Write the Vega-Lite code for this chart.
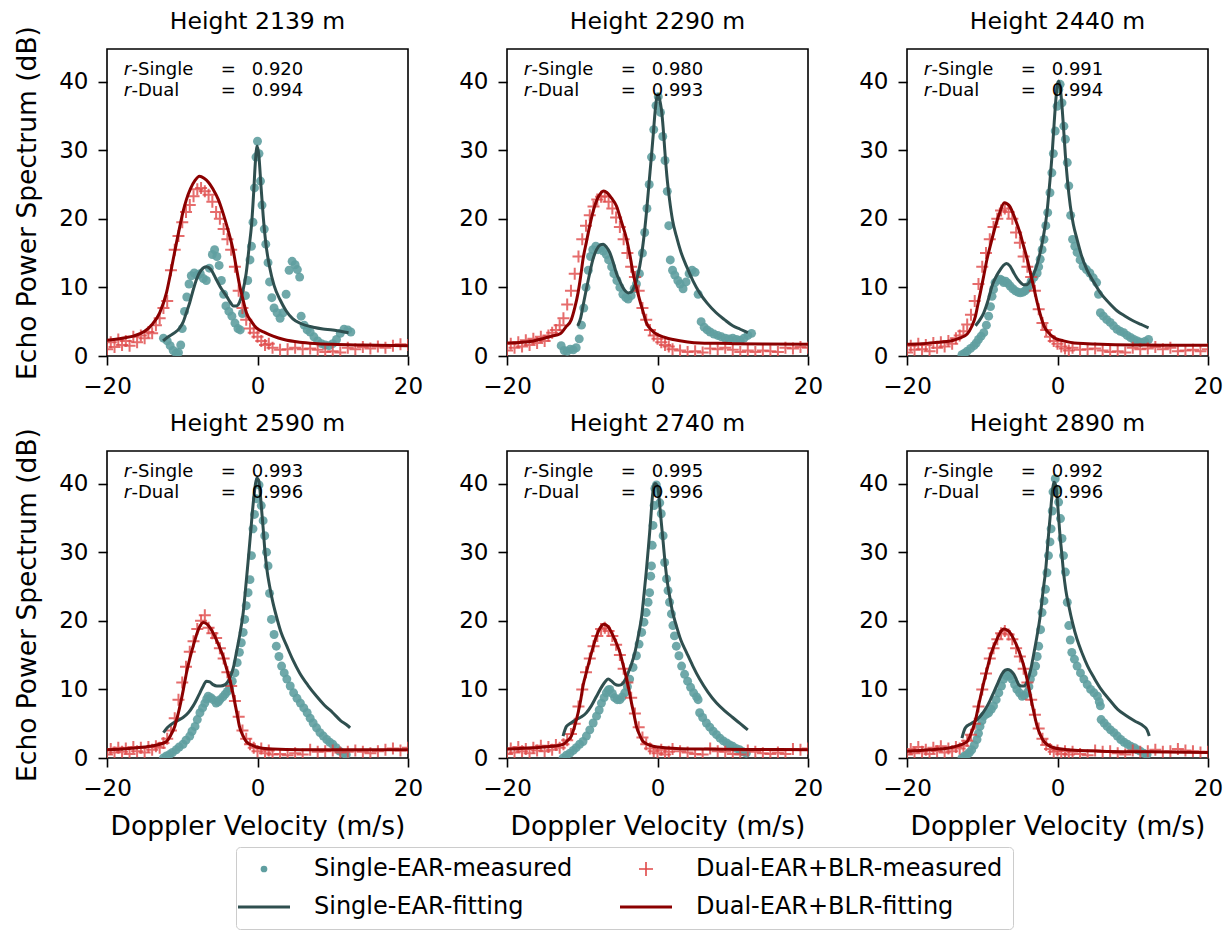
{
"$schema":"https://vega.github.io/schema/vega-lite/v6.json",
"background":"white",
"padding":{"left":13,"top":8,"right":5,"bottom":0},
"datasets":{
"s1":[{"a":"0.920","b":"0.994"}],
"s2":[{"a":"0.980","b":"0.993"}],
"s3":[{"a":"0.991","b":"0.994"}],
"s4":[{"a":"0.993","b":"0.996"}],
"s5":[{"a":"0.995","b":"0.996"}],
"s6":[{"a":"0.992","b":"0.996"}],
"d1":[
{"s":"sm","v":-12.5,"p":2.6},{"s":"sm","v":-12.0,"p":2.2},{"s":"sm","v":-11.6,"p":1.5},{"s":"sm","v":-11.2,"p":0.8},{"s":"sm","v":-10.8,"p":0.4},{"s":"sm","v":-10.5,"p":0.5},{"s":"sm","v":-10.2,"p":1.6},{"s":"sm","v":-10.0,"p":4.0},{"s":"sm","v":-9.7,"p":6.5},{"s":"sm","v":-9.4,"p":8.6},{"s":"sm","v":-9.1,"p":10.5},{"s":"sm","v":-8.8,"p":11.7},{"s":"sm","v":-8.4,"p":12.1},{"s":"sm","v":-8.0,"p":11.8},{"s":"sm","v":-7.6,"p":12.0},{"s":"sm","v":-7.2,"p":11.3},{"s":"sm","v":-6.8,"p":11.0},{"s":"sm","v":-6.4,"p":12.8},{"s":"sm","v":-6.0,"p":14.8},{"s":"sm","v":-5.7,"p":15.5},{"s":"sm","v":-5.4,"p":14.5},{"s":"sm","v":-5.1,"p":13.2},{"s":"sm","v":-4.8,"p":11.0},{"s":"sm","v":-4.5,"p":9.0},{"s":"sm","v":-4.2,"p":7.3},{"s":"sm","v":-3.8,"p":6.5},{"s":"sm","v":-3.4,"p":5.8},{"s":"sm","v":-3.0,"p":4.8},{"s":"sm","v":-2.6,"p":4.0},{"s":"sm","v":-2.3,"p":3.8},{"s":"sm","v":-2.0,"p":6.2},{"s":"sm","v":-1.6,"p":8.8},{"s":"sm","v":-1.3,"p":11.0},{"s":"sm","v":-1.0,"p":14.0},{"s":"sm","v":-0.8,"p":16.0},{"s":"sm","v":-0.6,"p":19.5},{"s":"sm","v":-0.4,"p":24.5},{"s":"sm","v":-0.2,"p":29.0},{"s":"sm","v":0.0,"p":31.3},{"s":"sm","v":0.2,"p":29.5},{"s":"sm","v":0.4,"p":25.5},{"s":"sm","v":0.6,"p":22.0},{"s":"sm","v":0.9,"p":18.5},{"s":"sm","v":1.1,"p":16.3},{"s":"sm","v":1.4,"p":13.6},{"s":"sm","v":1.6,"p":10.8},{"s":"sm","v":1.9,"p":8.5},{"s":"sm","v":2.2,"p":7.0},{"s":"sm","v":2.6,"p":6.3},{"s":"sm","v":3.0,"p":5.5},{"s":"sm","v":3.4,"p":6.3},{"s":"sm","v":3.8,"p":9.0},{"s":"sm","v":4.2,"p":12.5},{"s":"sm","v":4.6,"p":13.8},{"s":"sm","v":5.0,"p":13.3},{"s":"sm","v":5.3,"p":12.6},{"s":"sm","v":5.6,"p":11.5},{"s":"sm","v":5.8,"p":5.8},{"s":"sm","v":6.2,"p":4.5},{"s":"sm","v":6.6,"p":3.8},{"s":"sm","v":7.0,"p":3.5},{"s":"sm","v":7.5,"p":2.8},{"s":"sm","v":8.0,"p":2.2},{"s":"sm","v":8.5,"p":1.8},{"s":"sm","v":9.0,"p":1.6},{"s":"sm","v":9.5,"p":1.5},{"s":"sm","v":10.0,"p":1.8},{"s":"sm","v":10.5,"p":2.4},{"s":"sm","v":11.0,"p":3.3},{"s":"sm","v":11.5,"p":3.9},{"s":"sm","v":12.0,"p":3.8},{"s":"sm","v":12.4,"p":3.5},
{"s":"dm","v":-20,"p":1.0},{"s":"dm","v":-19.5,"p":2.0},{"s":"dm","v":-19,"p":1.3},{"s":"dm","v":-18.5,"p":2.4},{"s":"dm","v":-18,"p":1.6},{"s":"dm","v":-17.5,"p":2.2},{"s":"dm","v":-17,"p":1.5},{"s":"dm","v":-16.5,"p":2.8},{"s":"dm","v":-16,"p":2.0},{"s":"dm","v":-15.5,"p":3.0},{"s":"dm","v":-15,"p":2.6},{"s":"dm","v":-14.5,"p":3.5},{"s":"dm","v":-14,"p":3.3},{"s":"dm","v":-13.5,"p":4.5},{"s":"dm","v":-13,"p":5.5},{"s":"dm","v":-12.5,"p":7.0},{"s":"dm","v":-12,"p":8.0},{"s":"dm","v":-11.5,"p":12.5},{"s":"dm","v":-11,"p":15.5},{"s":"dm","v":-10.5,"p":17.5},{"s":"dm","v":-10,"p":19.5},{"s":"dm","v":-9.5,"p":21.0},{"s":"dm","v":-9,"p":22.0},{"s":"dm","v":-8.5,"p":23.3},{"s":"dm","v":-8,"p":24.3},{"s":"dm","v":-7.5,"p":24.5},{"s":"dm","v":-7,"p":24.0},{"s":"dm","v":-6.5,"p":23.5},{"s":"dm","v":-6,"p":22.5},{"s":"dm","v":-5.5,"p":21.0},{"s":"dm","v":-5,"p":20.0},{"s":"dm","v":-4.5,"p":18.5},{"s":"dm","v":-4,"p":17.0},{"s":"dm","v":-3.5,"p":15.5},{"s":"dm","v":-3,"p":13.0},{"s":"dm","v":-2.5,"p":9.5},{"s":"dm","v":-2,"p":7.0},{"s":"dm","v":-1.5,"p":5.3},{"s":"dm","v":-1,"p":4.0},{"s":"dm","v":-0.5,"p":3.4},{"s":"dm","v":0,"p":2.8},{"s":"dm","v":0.5,"p":2.2},{"s":"dm","v":1,"p":1.6},{"s":"dm","v":1.5,"p":1.8},{"s":"dm","v":2,"p":1.2},{"s":"dm","v":3,"p":0.9},{"s":"dm","v":4,"p":1.0},{"s":"dm","v":5,"p":1.2},{"s":"dm","v":6,"p":1.0},{"s":"dm","v":7,"p":1.1},{"s":"dm","v":8,"p":0.9},{"s":"dm","v":9,"p":0.6},{"s":"dm","v":10,"p":0.7},{"s":"dm","v":11,"p":0.5},{"s":"dm","v":12,"p":1.2},{"s":"dm","v":13,"p":1.0},{"s":"dm","v":14,"p":1.3},{"s":"dm","v":15,"p":1.1},{"s":"dm","v":16,"p":1.4},{"s":"dm","v":17,"p":1.2},{"s":"dm","v":18,"p":1.5},{"s":"dm","v":19,"p":1.7},{"s":"dm","v":20,"p":1.6},
{"s":"sf","v":-12.55,"p":2.2},{"s":"sf","v":-12,"p":2.7},{"s":"sf","v":-11,"p":3.4},{"s":"sf","v":-10.4,"p":4.0},{"s":"sf","v":-9.9,"p":4.9},{"s":"sf","v":-9.4,"p":6.5},{"s":"sf","v":-9.0,"p":7.8},{"s":"sf","v":-8.5,"p":9.8},{"s":"sf","v":-8.1,"p":11.2},{"s":"sf","v":-7.5,"p":12.5},{"s":"sf","v":-6.8,"p":13.0},{"s":"sf","v":-6.2,"p":12.6},{"s":"sf","v":-5.5,"p":11.2},{"s":"sf","v":-4.8,"p":9.8},{"s":"sf","v":-4.1,"p":8.7},{"s":"sf","v":-3.6,"p":7.8},{"s":"sf","v":-3.2,"p":7.3},{"s":"sf","v":-2.8,"p":7.3},{"s":"sf","v":-2.4,"p":7.8},{"s":"sf","v":-2.0,"p":9.2},{"s":"sf","v":-1.5,"p":12.1},{"s":"sf","v":-1.1,"p":16.0},{"s":"sf","v":-0.8,"p":19.0},{"s":"sf","v":-0.5,"p":24.0},{"s":"sf","v":-0.3,"p":28.0},{"s":"sf","v":-0.05,"p":30.6},{"s":"sf","v":0.2,"p":29.0},{"s":"sf","v":0.45,"p":25.0},{"s":"sf","v":0.75,"p":20.5},{"s":"sf","v":1.1,"p":16.5},{"s":"sf","v":1.6,"p":13.0},{"s":"sf","v":2.2,"p":10.3},{"s":"sf","v":3.0,"p":8.2},{"s":"sf","v":3.8,"p":6.6},{"s":"sf","v":4.7,"p":5.4},{"s":"sf","v":5.8,"p":4.7},{"s":"sf","v":7.4,"p":4.2},{"s":"sf","v":8.7,"p":3.95},{"s":"sf","v":10,"p":3.8},{"s":"sf","v":11,"p":3.6},{"s":"sf","v":12.1,"p":3.4},
{"s":"df","v":-20,"p":2.3},{"s":"df","v":-18,"p":2.6},{"s":"df","v":-16.5,"p":2.9},{"s":"df","v":-15,"p":3.6},{"s":"df","v":-14,"p":4.6},{"s":"df","v":-13,"p":6.3},{"s":"df","v":-12.1,"p":9.2},{"s":"df","v":-11.6,"p":11.8},{"s":"df","v":-11.2,"p":14.1},{"s":"df","v":-10.75,"p":16.6},{"s":"df","v":-10.3,"p":19.0},{"s":"df","v":-9.9,"p":21.0},{"s":"df","v":-9.45,"p":22.8},{"s":"df","v":-8.9,"p":24.4},{"s":"df","v":-8.3,"p":25.6},{"s":"df","v":-7.7,"p":26.2},{"s":"df","v":-7.1,"p":25.9},{"s":"df","v":-6.5,"p":25.3},{"s":"df","v":-5.9,"p":24.3},{"s":"df","v":-5.2,"p":22.8},{"s":"df","v":-4.6,"p":20.9},{"s":"df","v":-3.9,"p":18.3},{"s":"df","v":-3.25,"p":15.5},{"s":"df","v":-2.8,"p":12.8},{"s":"df","v":-2.36,"p":10.2},{"s":"df","v":-1.9,"p":8.1},{"s":"df","v":-1.47,"p":6.3},{"s":"df","v":-0.8,"p":5.0},{"s":"df","v":-0.15,"p":4.1},{"s":"df","v":1,"p":3.4},{"s":"df","v":2.07,"p":2.9},{"s":"df","v":3.5,"p":2.4},{"s":"df","v":5.6,"p":2.0},{"s":"df","v":8,"p":1.8},{"s":"df","v":10,"p":1.7},{"s":"df","v":14,"p":1.6},{"s":"df","v":20,"p":1.5}
],
"d2":[
{"s":"sm","v":-12.8,"p":1.5},{"s":"sm","v":-12.4,"p":0.8},{"s":"sm","v":-12.0,"p":0.7},{"s":"sm","v":-11.6,"p":1.0},{"s":"sm","v":-11.2,"p":0.9},{"s":"sm","v":-10.8,"p":1.2},{"s":"sm","v":-10.4,"p":2.5},{"s":"sm","v":-10.1,"p":4.5},{"s":"sm","v":-9.8,"p":7.0},{"s":"sm","v":-9.5,"p":10.0},{"s":"sm","v":-9.2,"p":12.5},{"s":"sm","v":-8.9,"p":14.5},{"s":"sm","v":-8.6,"p":15.5},{"s":"sm","v":-8.2,"p":16.0},{"s":"sm","v":-7.9,"p":15.5},{"s":"sm","v":-7.5,"p":15.8},{"s":"sm","v":-7.2,"p":15.3},{"s":"sm","v":-6.8,"p":14.8},{"s":"sm","v":-6.5,"p":14.0},{"s":"sm","v":-6.1,"p":13.0},{"s":"sm","v":-5.8,"p":12.0},{"s":"sm","v":-5.4,"p":11.0},{"s":"sm","v":-5.0,"p":10.0},{"s":"sm","v":-4.6,"p":9.0},{"s":"sm","v":-4.2,"p":8.5},{"s":"sm","v":-3.9,"p":8.3},{"s":"sm","v":-3.5,"p":8.8},{"s":"sm","v":-3.1,"p":9.8},{"s":"sm","v":-2.8,"p":10.5},{"s":"sm","v":-2.4,"p":12.0},{"s":"sm","v":-2.0,"p":15.0},{"s":"sm","v":-1.7,"p":18.0},{"s":"sm","v":-1.4,"p":21.5},{"s":"sm","v":-1.1,"p":25.0},{"s":"sm","v":-0.8,"p":29.0},{"s":"sm","v":-0.5,"p":33.0},{"s":"sm","v":-0.2,"p":36.5},{"s":"sm","v":0.1,"p":37.8},{"s":"sm","v":0.4,"p":35.5},{"s":"sm","v":0.7,"p":32.0},{"s":"sm","v":1.0,"p":28.5},{"s":"sm","v":1.3,"p":24.0},{"s":"sm","v":1.5,"p":19.0},{"s":"sm","v":1.7,"p":14.0},{"s":"sm","v":2.0,"p":12.5},{"s":"sm","v":2.3,"p":11.8},{"s":"sm","v":2.7,"p":11.0},{"s":"sm","v":3.0,"p":10.5},{"s":"sm","v":3.4,"p":9.8},{"s":"sm","v":3.8,"p":10.8},{"s":"sm","v":4.2,"p":12.0},{"s":"sm","v":4.6,"p":12.5},{"s":"sm","v":5.0,"p":12.2},{"s":"sm","v":5.4,"p":9.0},{"s":"sm","v":5.8,"p":5.0},{"s":"sm","v":6.2,"p":4.2},{"s":"sm","v":6.6,"p":3.8},{"s":"sm","v":7.0,"p":3.5},{"s":"sm","v":7.5,"p":3.2},{"s":"sm","v":8.0,"p":3.0},{"s":"sm","v":8.5,"p":2.8},{"s":"sm","v":9.0,"p":2.6},{"s":"sm","v":9.5,"p":2.5},{"s":"sm","v":10.0,"p":2.6},{"s":"sm","v":10.5,"p":2.4},{"s":"sm","v":11.0,"p":2.3},{"s":"sm","v":11.5,"p":2.6},{"s":"sm","v":12.0,"p":3.0},{"s":"sm","v":12.5,"p":3.3},
{"s":"dm","v":-20,"p":0.8},{"s":"dm","v":-19.5,"p":1.8},{"s":"dm","v":-19,"p":1.2},{"s":"dm","v":-18.5,"p":2.0},{"s":"dm","v":-18,"p":1.4},{"s":"dm","v":-17.5,"p":2.3},{"s":"dm","v":-17,"p":1.6},{"s":"dm","v":-16.5,"p":2.5},{"s":"dm","v":-16,"p":1.9},{"s":"dm","v":-15.5,"p":2.8},{"s":"dm","v":-15,"p":2.2},{"s":"dm","v":-14.5,"p":3.0},{"s":"dm","v":-14,"p":3.4},{"s":"dm","v":-13.5,"p":3.8},{"s":"dm","v":-13,"p":4.5},{"s":"dm","v":-12.5,"p":5.5},{"s":"dm","v":-12,"p":7.5},{"s":"dm","v":-11.5,"p":9.5},{"s":"dm","v":-11,"p":12.0},{"s":"dm","v":-10.5,"p":14.5},{"s":"dm","v":-10,"p":17.0},{"s":"dm","v":-9.5,"p":19.0},{"s":"dm","v":-9,"p":20.5},{"s":"dm","v":-8.5,"p":21.8},{"s":"dm","v":-8,"p":22.8},{"s":"dm","v":-7.5,"p":23.2},{"s":"dm","v":-7,"p":23.3},{"s":"dm","v":-6.5,"p":22.5},{"s":"dm","v":-6,"p":21.5},{"s":"dm","v":-5.5,"p":20.2},{"s":"dm","v":-5,"p":18.8},{"s":"dm","v":-4.5,"p":17.0},{"s":"dm","v":-4,"p":15.0},{"s":"dm","v":-3.5,"p":13.0},{"s":"dm","v":-3,"p":11.5},{"s":"dm","v":-2.5,"p":9.5},{"s":"dm","v":-2,"p":7.0},{"s":"dm","v":-1.5,"p":5.3},{"s":"dm","v":-1,"p":3.8},{"s":"dm","v":-0.5,"p":3.0},{"s":"dm","v":0,"p":2.5},{"s":"dm","v":0.5,"p":2.0},{"s":"dm","v":1,"p":1.6},{"s":"dm","v":1.5,"p":1.4},{"s":"dm","v":2,"p":1.0},{"s":"dm","v":3,"p":0.8},{"s":"dm","v":4,"p":0.6},{"s":"dm","v":5,"p":0.7},{"s":"dm","v":6,"p":0.5},{"s":"dm","v":7,"p":1.1},{"s":"dm","v":8,"p":1.0},{"s":"dm","v":9,"p":1.2},{"s":"dm","v":10,"p":0.9},{"s":"dm","v":11,"p":0.6},{"s":"dm","v":12,"p":0.8},{"s":"dm","v":13,"p":0.6},{"s":"dm","v":14,"p":0.8},{"s":"dm","v":15,"p":0.7},{"s":"dm","v":16,"p":0.6},{"s":"dm","v":17,"p":1.2},{"s":"dm","v":18,"p":1.1},{"s":"dm","v":19,"p":1.3},{"s":"dm","v":20,"p":1.2},
{"s":"sf","v":-10.6,"p":4.4},{"s":"sf","v":-10.2,"p":5.6},{"s":"sf","v":-9.9,"p":7.3},{"s":"sf","v":-9.5,"p":9.5},{"s":"sf","v":-9.0,"p":12.1},{"s":"sf","v":-8.6,"p":14.0},{"s":"sf","v":-8.1,"p":15.5},{"s":"sf","v":-7.6,"p":16.2},{"s":"sf","v":-7.2,"p":16.3},{"s":"sf","v":-6.8,"p":15.9},{"s":"sf","v":-6.35,"p":15.1},{"s":"sf","v":-5.9,"p":13.7},{"s":"sf","v":-5.47,"p":12.1},{"s":"sf","v":-5.0,"p":10.9},{"s":"sf","v":-4.6,"p":10.0},{"s":"sf","v":-4.2,"p":9.4},{"s":"sf","v":-3.9,"p":9.2},{"s":"sf","v":-3.5,"p":9.3},{"s":"sf","v":-3.25,"p":9.7},{"s":"sf","v":-2.8,"p":11.0},{"s":"sf","v":-2.36,"p":13.1},{"s":"sf","v":-1.9,"p":16.5},{"s":"sf","v":-1.47,"p":20.9},{"s":"sf","v":-1.1,"p":25.5},{"s":"sf","v":-0.8,"p":29.2},{"s":"sf","v":-0.55,"p":32.5},{"s":"sf","v":-0.37,"p":35.0},{"s":"sf","v":-0.15,"p":37.3},{"s":"sf","v":0.07,"p":38.1},{"s":"sf","v":0.3,"p":37.3},{"s":"sf","v":0.51,"p":36.0},{"s":"sf","v":0.75,"p":33.3},{"s":"sf","v":0.96,"p":30.1},{"s":"sf","v":1.25,"p":26.2},{"s":"sf","v":1.6,"p":22.8},{"s":"sf","v":2.0,"p":19.8},{"s":"sf","v":2.5,"p":17.5},{"s":"sf","v":3.1,"p":15.2},{"s":"sf","v":3.85,"p":13.1},{"s":"sf","v":4.7,"p":11.0},{"s":"sf","v":5.6,"p":9.2},{"s":"sf","v":6.6,"p":7.7},{"s":"sf","v":7.8,"p":6.3},{"s":"sf","v":8.9,"p":5.3},{"s":"sf","v":10.0,"p":4.4},{"s":"sf","v":11.0,"p":3.9},{"s":"sf","v":12.0,"p":3.4},
{"s":"df","v":-20,"p":1.9},{"s":"df","v":-18,"p":2.0},{"s":"df","v":-16.5,"p":2.2},{"s":"df","v":-15,"p":2.6},{"s":"df","v":-14,"p":2.9},{"s":"df","v":-13,"p":3.2},{"s":"df","v":-12.2,"p":4.2},{"s":"df","v":-11.45,"p":5.3},{"s":"df","v":-11,"p":7.0},{"s":"df","v":-10.56,"p":9.2},{"s":"df","v":-10.2,"p":11.7},{"s":"df","v":-9.9,"p":14.1},{"s":"df","v":-9.45,"p":16.6},{"s":"df","v":-9.0,"p":19.0},{"s":"df","v":-8.5,"p":21.3},{"s":"df","v":-8.0,"p":22.9},{"s":"df","v":-7.5,"p":23.8},{"s":"df","v":-7.15,"p":24.05},{"s":"df","v":-6.7,"p":23.8},{"s":"df","v":-6.1,"p":23.0},{"s":"df","v":-5.47,"p":21.9},{"s":"df","v":-4.8,"p":19.6},{"s":"df","v":-4.1,"p":17.0},{"s":"df","v":-3.65,"p":14.6},{"s":"df","v":-3.25,"p":12.1},{"s":"df","v":-2.8,"p":10.0},{"s":"df","v":-2.4,"p":8.3},{"s":"df","v":-1.9,"p":6.4},{"s":"df","v":-1.5,"p":4.9},{"s":"df","v":-0.8,"p":3.8},{"s":"df","v":-0.15,"p":3.2},{"s":"df","v":1,"p":2.7},{"s":"df","v":2.07,"p":2.4},{"s":"df","v":4,"p":2.05},{"s":"df","v":5.6,"p":1.9},{"s":"df","v":8,"p":1.85},{"s":"df","v":10,"p":1.8},{"s":"df","v":14,"p":1.75},{"s":"df","v":20,"p":1.7}
],
"d3":[
{"s":"sm","v":-12.7,"p":0.2},{"s":"sm","v":-12.35,"p":0.4},{"s":"sm","v":-12.0,"p":0.7},{"s":"sm","v":-11.55,"p":1.1},{"s":"sm","v":-11.1,"p":1.5},{"s":"sm","v":-10.8,"p":1.9},{"s":"sm","v":-10.5,"p":2.4},{"s":"sm","v":-10.15,"p":2.9},{"s":"sm","v":-9.8,"p":3.4},{"s":"sm","v":-9.45,"p":4.5},{"s":"sm","v":-9.15,"p":5.8},{"s":"sm","v":-8.9,"p":7.2},{"s":"sm","v":-8.7,"p":8.7},{"s":"sm","v":-8.5,"p":9.7},{"s":"sm","v":-8.3,"p":10.7},{"s":"sm","v":-7.95,"p":11.1},{"s":"sm","v":-7.6,"p":11.2},{"s":"sm","v":-7.35,"p":11.0},{"s":"sm","v":-7.15,"p":10.7},{"s":"sm","v":-6.9,"p":10.9},{"s":"sm","v":-6.6,"p":10.6},{"s":"sm","v":-6.3,"p":10.2},{"s":"sm","v":-5.95,"p":9.8},{"s":"sm","v":-5.6,"p":9.5},{"s":"sm","v":-5.25,"p":9.3},{"s":"sm","v":-4.95,"p":9.2},{"s":"sm","v":-4.6,"p":9.3},{"s":"sm","v":-4.3,"p":9.5},{"s":"sm","v":-4.05,"p":9.8},{"s":"sm","v":-3.8,"p":10.2},{"s":"sm","v":-3.5,"p":10.9},{"s":"sm","v":-3.1,"p":11.5},{"s":"sm","v":-2.7,"p":12.1},{"s":"sm","v":-2.5,"p":13.0},{"s":"sm","v":-2.3,"p":14.1},{"s":"sm","v":-2.05,"p":15.5},{"s":"sm","v":-1.8,"p":17.0},{"s":"sm","v":-1.55,"p":19.0},{"s":"sm","v":-1.3,"p":20.9},{"s":"sm","v":-1.0,"p":23.8},{"s":"sm","v":-0.75,"p":26.7},{"s":"sm","v":-0.55,"p":29.5},{"s":"sm","v":-0.3,"p":32.8},{"s":"sm","v":-0.05,"p":36.4},{"s":"sm","v":0.17,"p":38.9},{"s":"sm","v":0.35,"p":39.6},{"s":"sm","v":0.6,"p":36.9},{"s":"sm","v":0.85,"p":33.5},{"s":"sm","v":1.05,"p":31.6},{"s":"sm","v":1.3,"p":28.2},{"s":"sm","v":1.5,"p":24.8},{"s":"sm","v":1.75,"p":20.5},{"s":"sm","v":2.0,"p":17.0},{"s":"sm","v":2.3,"p":16.0},{"s":"sm","v":2.6,"p":15.1},{"s":"sm","v":3.0,"p":14.0},{"s":"sm","v":3.4,"p":13.1},{"s":"sm","v":3.85,"p":12.6},{"s":"sm","v":4.3,"p":12.1},{"s":"sm","v":4.75,"p":11.4},{"s":"sm","v":5.2,"p":10.7},{"s":"sm","v":5.45,"p":9.0},{"s":"sm","v":5.7,"p":6.3},{"s":"sm","v":6.1,"p":5.8},{"s":"sm","v":6.55,"p":5.3},{"s":"sm","v":7.0,"p":4.9},{"s":"sm","v":7.45,"p":4.4},{"s":"sm","v":7.9,"p":3.9},{"s":"sm","v":8.35,"p":3.6},{"s":"sm","v":8.8,"p":3.4},{"s":"sm","v":9.25,"p":3.0},{"s":"sm","v":9.7,"p":2.7},{"s":"sm","v":10.15,"p":2.4},{"s":"sm","v":10.6,"p":2.2},{"s":"sm","v":11.05,"p":2.0},{"s":"sm","v":11.6,"p":2.1},{"s":"sm","v":12.1,"p":2.4},
{"s":"dm","v":-20,"p":0.5},{"s":"dm","v":-19.5,"p":1.5},{"s":"dm","v":-19,"p":0.9},{"s":"dm","v":-18.5,"p":1.8},{"s":"dm","v":-18,"p":1.0},{"s":"dm","v":-17.5,"p":1.6},{"s":"dm","v":-17,"p":0.7},{"s":"dm","v":-16.5,"p":1.9},{"s":"dm","v":-16,"p":1.2},{"s":"dm","v":-15.5,"p":2.0},{"s":"dm","v":-15,"p":1.4},{"s":"dm","v":-14.5,"p":2.2},{"s":"dm","v":-14,"p":1.8},{"s":"dm","v":-13.5,"p":2.6},{"s":"dm","v":-13,"p":3.0},{"s":"dm","v":-12.5,"p":3.6},{"s":"dm","v":-12,"p":4.6},{"s":"dm","v":-11.5,"p":6.0},{"s":"dm","v":-11,"p":8.0},{"s":"dm","v":-10.5,"p":10.5},{"s":"dm","v":-10,"p":13.0},{"s":"dm","v":-9.5,"p":15.0},{"s":"dm","v":-9,"p":17.0},{"s":"dm","v":-8.5,"p":18.8},{"s":"dm","v":-8,"p":20.0},{"s":"dm","v":-7.5,"p":21.2},{"s":"dm","v":-7,"p":21.5},{"s":"dm","v":-6.5,"p":21.0},{"s":"dm","v":-6,"p":20.0},{"s":"dm","v":-5.5,"p":18.0},{"s":"dm","v":-5,"p":16.5},{"s":"dm","v":-4.5,"p":14.5},{"s":"dm","v":-4,"p":13.0},{"s":"dm","v":-3.5,"p":11.5},{"s":"dm","v":-3,"p":9.5},{"s":"dm","v":-2.5,"p":6.8},{"s":"dm","v":-2,"p":4.8},{"s":"dm","v":-1.5,"p":3.8},{"s":"dm","v":-1,"p":2.8},{"s":"dm","v":-0.5,"p":2.2},{"s":"dm","v":0,"p":1.8},{"s":"dm","v":0.5,"p":1.4},{"s":"dm","v":1,"p":1.1},{"s":"dm","v":1.5,"p":0.8},{"s":"dm","v":2,"p":1.2},{"s":"dm","v":3,"p":0.9},{"s":"dm","v":4,"p":1.0},{"s":"dm","v":5,"p":1.1},{"s":"dm","v":6,"p":0.8},{"s":"dm","v":7,"p":0.6},{"s":"dm","v":8,"p":0.7},{"s":"dm","v":9,"p":0.5},{"s":"dm","v":10,"p":1.2},{"s":"dm","v":11,"p":1.0},{"s":"dm","v":12,"p":1.1},{"s":"dm","v":13,"p":1.3},{"s":"dm","v":14,"p":1.0},{"s":"dm","v":15,"p":1.2},{"s":"dm","v":16,"p":0.7},{"s":"dm","v":17,"p":0.8},{"s":"dm","v":18,"p":0.9},{"s":"dm","v":19,"p":0.7},{"s":"dm","v":20,"p":1.0},
{"s":"sf","v":-10.9,"p":4.4},{"s":"sf","v":-10.3,"p":5.3},{"s":"sf","v":-9.8,"p":6.3},{"s":"sf","v":-9.2,"p":8.2},{"s":"sf","v":-8.7,"p":10.2},{"s":"sf","v":-8.1,"p":11.7},{"s":"sf","v":-7.6,"p":12.6},{"s":"sf","v":-7.2,"p":13.2},{"s":"sf","v":-6.8,"p":13.5},{"s":"sf","v":-6.3,"p":13.1},{"s":"sf","v":-5.8,"p":12.1},{"s":"sf","v":-5.3,"p":11.2},{"s":"sf","v":-4.9,"p":10.7},{"s":"sf","v":-4.5,"p":10.4},{"s":"sf","v":-4.05,"p":10.4},{"s":"sf","v":-3.6,"p":11.0},{"s":"sf","v":-3.2,"p":11.9},{"s":"sf","v":-2.75,"p":13.2},{"s":"sf","v":-2.3,"p":15.1},{"s":"sf","v":-1.85,"p":17.6},{"s":"sf","v":-1.4,"p":20.9},{"s":"sf","v":-1.05,"p":25.0},{"s":"sf","v":-0.73,"p":29.2},{"s":"sf","v":-0.5,"p":33.0},{"s":"sf","v":-0.29,"p":36.4},{"s":"sf","v":-0.05,"p":39.2},{"s":"sf","v":0.16,"p":40.1},{"s":"sf","v":0.4,"p":38.8},{"s":"sf","v":0.6,"p":36.4},{"s":"sf","v":0.83,"p":32.8},{"s":"sf","v":1.05,"p":29.2},{"s":"sf","v":1.35,"p":25.3},{"s":"sf","v":1.7,"p":21.9},{"s":"sf","v":2.1,"p":19.2},{"s":"sf","v":2.6,"p":17.0},{"s":"sf","v":3.2,"p":14.6},{"s":"sf","v":3.9,"p":12.6},{"s":"sf","v":4.8,"p":10.8},{"s":"sf","v":5.7,"p":9.2},{"s":"sf","v":6.8,"p":7.8},{"s":"sf","v":7.9,"p":6.6},{"s":"sf","v":9.0,"p":5.8},{"s":"sf","v":10.1,"p":5.1},{"s":"sf","v":11.1,"p":4.6},{"s":"sf","v":12.1,"p":4.1},
{"s":"df","v":-20,"p":1.7},{"s":"df","v":-18,"p":1.8},{"s":"df","v":-16,"p":2.0},{"s":"df","v":-14.2,"p":2.2},{"s":"df","v":-13,"p":2.6},{"s":"df","v":-12,"p":3.2},{"s":"df","v":-11.4,"p":4.3},{"s":"df","v":-10.9,"p":5.8},{"s":"df","v":-10.6,"p":7.4},{"s":"df","v":-10.26,"p":9.2},{"s":"df","v":-9.8,"p":11.7},{"s":"df","v":-9.37,"p":14.1},{"s":"df","v":-8.9,"p":16.2},{"s":"df","v":-8.48,"p":18.0},{"s":"df","v":-7.8,"p":20.5},{"s":"df","v":-7.06,"p":22.35},{"s":"df","v":-6.4,"p":21.9},{"s":"df","v":-5.6,"p":19.9},{"s":"df","v":-5.0,"p":18.0},{"s":"df","v":-4.5,"p":16.0},{"s":"df","v":-4.0,"p":14.0},{"s":"df","v":-3.6,"p":12.1},{"s":"df","v":-3.15,"p":10.0},{"s":"df","v":-2.7,"p":7.8},{"s":"df","v":-2.25,"p":5.9},{"s":"df","v":-1.8,"p":4.4},{"s":"df","v":-1.2,"p":3.4},{"s":"df","v":-0.5,"p":2.7},{"s":"df","v":0.8,"p":2.2},{"s":"df","v":2.2,"p":1.9},{"s":"df","v":4,"p":1.8},{"s":"df","v":5.8,"p":1.7},{"s":"df","v":10,"p":1.6},{"s":"df","v":14,"p":1.58},{"s":"df","v":20,"p":1.55}
],
"d4":[
{"s":"sm","v":-12.5,"p":0.0},{"s":"sm","v":-12.1,"p":0.3},{"s":"sm","v":-11.7,"p":0.5},{"s":"sm","v":-11.3,"p":0.8},{"s":"sm","v":-10.8,"p":1.2},{"s":"sm","v":-10.4,"p":1.6},{"s":"sm","v":-9.9,"p":2.0},{"s":"sm","v":-9.5,"p":2.6},{"s":"sm","v":-9.0,"p":3.2},{"s":"sm","v":-8.7,"p":3.9},{"s":"sm","v":-8.3,"p":4.6},{"s":"sm","v":-8.0,"p":5.6},{"s":"sm","v":-7.65,"p":6.6},{"s":"sm","v":-7.3,"p":7.3},{"s":"sm","v":-7.0,"p":8.0},{"s":"sm","v":-6.75,"p":8.6},{"s":"sm","v":-6.55,"p":9.0},{"s":"sm","v":-6.2,"p":8.8},{"s":"sm","v":-5.9,"p":8.5},{"s":"sm","v":-5.5,"p":8.0},{"s":"sm","v":-5.2,"p":8.2},{"s":"sm","v":-5.0,"p":8.5},{"s":"sm","v":-4.6,"p":8.9},{"s":"sm","v":-4.3,"p":9.3},{"s":"sm","v":-4.0,"p":9.7},{"s":"sm","v":-3.7,"p":10.2},{"s":"sm","v":-3.35,"p":11.2},{"s":"sm","v":-3.0,"p":12.4},{"s":"sm","v":-2.7,"p":13.9},{"s":"sm","v":-2.4,"p":15.4},{"s":"sm","v":-2.15,"p":16.8},{"s":"sm","v":-1.9,"p":18.3},{"s":"sm","v":-1.7,"p":20.2},{"s":"sm","v":-1.5,"p":22.2},{"s":"sm","v":-1.25,"p":24.1},{"s":"sm","v":-1.0,"p":26.0},{"s":"sm","v":-0.8,"p":29.5},{"s":"sm","v":-0.6,"p":33.4},{"s":"sm","v":-0.4,"p":35.5},{"s":"sm","v":-0.15,"p":37.8},{"s":"sm","v":0.2,"p":39.8},{"s":"sm","v":0.5,"p":36.8},{"s":"sm","v":0.75,"p":34.6},{"s":"sm","v":0.96,"p":32.4},{"s":"sm","v":1.2,"p":30.0},{"s":"sm","v":1.4,"p":28.0},{"s":"sm","v":1.6,"p":24.0},{"s":"sm","v":1.85,"p":20.2},{"s":"sm","v":2.2,"p":18.0},{"s":"sm","v":2.5,"p":16.3},{"s":"sm","v":2.85,"p":14.8},{"s":"sm","v":3.2,"p":13.4},{"s":"sm","v":3.55,"p":12.4},{"s":"sm","v":3.9,"p":11.5},{"s":"sm","v":4.35,"p":10.5},{"s":"sm","v":4.8,"p":9.5},{"s":"sm","v":5.25,"p":8.7},{"s":"sm","v":5.7,"p":8.0},{"s":"sm","v":6.15,"p":7.3},{"s":"sm","v":6.6,"p":6.6},{"s":"sm","v":7.0,"p":5.8},{"s":"sm","v":7.4,"p":5.1},{"s":"sm","v":7.85,"p":4.4},{"s":"sm","v":8.3,"p":3.7},{"s":"sm","v":8.75,"p":3.2},{"s":"sm","v":9.2,"p":2.7},{"s":"sm","v":9.6,"p":2.3},{"s":"sm","v":10.0,"p":2.0},{"s":"sm","v":10.45,"p":1.5},{"s":"sm","v":10.9,"p":1.0},{"s":"sm","v":11.35,"p":0.7},{"s":"sm","v":11.8,"p":0.5},
{"s":"dm","v":-20,"p":0.5},{"s":"dm","v":-19.5,"p":1.3},{"s":"dm","v":-19,"p":0.8},{"s":"dm","v":-18.5,"p":1.5},{"s":"dm","v":-18,"p":0.9},{"s":"dm","v":-17.5,"p":1.4},{"s":"dm","v":-17,"p":0.6},{"s":"dm","v":-16.5,"p":1.6},{"s":"dm","v":-16,"p":1.0},{"s":"dm","v":-15.5,"p":1.5},{"s":"dm","v":-15,"p":0.8},{"s":"dm","v":-14.5,"p":1.6},{"s":"dm","v":-14,"p":1.2},{"s":"dm","v":-13.5,"p":1.7},{"s":"dm","v":-13,"p":1.5},{"s":"dm","v":-12.5,"p":2.2},{"s":"dm","v":-12,"p":2.8},{"s":"dm","v":-11.5,"p":4.0},{"s":"dm","v":-11,"p":5.8},{"s":"dm","v":-10.5,"p":8.5},{"s":"dm","v":-10,"p":11.0},{"s":"dm","v":-9.5,"p":13.3},{"s":"dm","v":-9,"p":15.5},{"s":"dm","v":-8.5,"p":17.0},{"s":"dm","v":-8,"p":18.8},{"s":"dm","v":-7.5,"p":20.0},{"s":"dm","v":-7,"p":20.8},{"s":"dm","v":-6.5,"p":19.0},{"s":"dm","v":-6,"p":18.2},{"s":"dm","v":-5.5,"p":17.5},{"s":"dm","v":-5,"p":16.0},{"s":"dm","v":-4.5,"p":14.5},{"s":"dm","v":-4,"p":12.5},{"s":"dm","v":-3.5,"p":10.5},{"s":"dm","v":-3,"p":8.3},{"s":"dm","v":-2.5,"p":6.0},{"s":"dm","v":-2,"p":4.0},{"s":"dm","v":-1.5,"p":2.8},{"s":"dm","v":-1,"p":2.0},{"s":"dm","v":-0.5,"p":1.5},{"s":"dm","v":0,"p":1.0},{"s":"dm","v":0.5,"p":1.4},{"s":"dm","v":1,"p":0.7},{"s":"dm","v":1.5,"p":1.1},{"s":"dm","v":2,"p":0.5},{"s":"dm","v":3,"p":0.6},{"s":"dm","v":4,"p":0.4},{"s":"dm","v":5,"p":0.7},{"s":"dm","v":6,"p":0.5},{"s":"dm","v":7,"p":1.2},{"s":"dm","v":8,"p":0.9},{"s":"dm","v":9,"p":1.0},{"s":"dm","v":10,"p":1.1},{"s":"dm","v":11,"p":0.8},{"s":"dm","v":12,"p":0.9},{"s":"dm","v":13,"p":1.1},{"s":"dm","v":14,"p":0.9},{"s":"dm","v":15,"p":0.7},{"s":"dm","v":16,"p":1.0},{"s":"dm","v":17,"p":1.2},{"s":"dm","v":18,"p":1.4},{"s":"dm","v":19,"p":1.1},{"s":"dm","v":20,"p":1.5},
{"s":"sf","v":-12.5,"p":3.7},{"s":"sf","v":-12.0,"p":4.4},{"s":"sf","v":-11.2,"p":5.1},{"s":"sf","v":-10.5,"p":5.5},{"s":"sf","v":-9.9,"p":5.9},{"s":"sf","v":-9.2,"p":6.6},{"s":"sf","v":-8.55,"p":7.6},{"s":"sf","v":-8.1,"p":8.5},{"s":"sf","v":-7.65,"p":9.5},{"s":"sf","v":-7.2,"p":10.5},{"s":"sf","v":-6.8,"p":11.2},{"s":"sf","v":-6.35,"p":11.1},{"s":"sf","v":-5.9,"p":10.7},{"s":"sf","v":-5.4,"p":10.5},{"s":"sf","v":-4.9,"p":10.5},{"s":"sf","v":-4.3,"p":10.7},{"s":"sf","v":-3.6,"p":11.9},{"s":"sf","v":-3.2,"p":13.2},{"s":"sf","v":-2.8,"p":15.4},{"s":"sf","v":-2.35,"p":18.0},{"s":"sf","v":-1.9,"p":21.2},{"s":"sf","v":-1.6,"p":24.5},{"s":"sf","v":-1.26,"p":28.5},{"s":"sf","v":-0.9,"p":33.0},{"s":"sf","v":-0.6,"p":36.8},{"s":"sf","v":-0.35,"p":39.3},{"s":"sf","v":-0.1,"p":40.8},{"s":"sf","v":0.15,"p":40.5},{"s":"sf","v":0.5,"p":36.8},{"s":"sf","v":0.75,"p":33.5},{"s":"sf","v":0.96,"p":30.5},{"s":"sf","v":1.25,"p":27.5},{"s":"sf","v":1.6,"p":25.1},{"s":"sf","v":2.0,"p":22.9},{"s":"sf","v":2.5,"p":20.7},{"s":"sf","v":3.1,"p":18.4},{"s":"sf","v":3.9,"p":16.3},{"s":"sf","v":4.7,"p":14.3},{"s":"sf","v":5.6,"p":12.4},{"s":"sf","v":6.7,"p":10.6},{"s":"sf","v":7.85,"p":9.0},{"s":"sf","v":8.9,"p":7.7},{"s":"sf","v":10.0,"p":6.6},{"s":"sf","v":11.0,"p":5.5},{"s":"sf","v":12.0,"p":4.7},{"s":"sf","v":12.3,"p":4.4},
{"s":"df","v":-20,"p":1.2},{"s":"df","v":-17,"p":1.4},{"s":"df","v":-15,"p":1.6},{"s":"df","v":-14.3,"p":1.7},{"s":"df","v":-13,"p":2.0},{"s":"df","v":-12.1,"p":2.4},{"s":"df","v":-11.5,"p":3.4},{"s":"df","v":-11.0,"p":4.6},{"s":"df","v":-10.6,"p":6.2},{"s":"df","v":-10.3,"p":7.6},{"s":"df","v":-9.85,"p":10.0},{"s":"df","v":-9.44,"p":12.4},{"s":"df","v":-9.0,"p":14.5},{"s":"df","v":-8.55,"p":16.3},{"s":"df","v":-8.0,"p":18.3},{"s":"df","v":-7.6,"p":19.3},{"s":"df","v":-7.2,"p":19.75},{"s":"df","v":-6.7,"p":19.5},{"s":"df","v":-6.2,"p":18.8},{"s":"df","v":-5.7,"p":17.8},{"s":"df","v":-5.1,"p":16.3},{"s":"df","v":-4.6,"p":14.9},{"s":"df","v":-4.1,"p":13.0},{"s":"df","v":-3.7,"p":11.5},{"s":"df","v":-3.3,"p":9.6},{"s":"df","v":-3.0,"p":8.0},{"s":"df","v":-2.7,"p":6.3},{"s":"df","v":-2.4,"p":4.6},{"s":"df","v":-1.95,"p":3.3},{"s":"df","v":-1.5,"p":2.4},{"s":"df","v":-0.6,"p":1.8},{"s":"df","v":0.3,"p":1.5},{"s":"df","v":2,"p":1.3},{"s":"df","v":5.6,"p":1.2},{"s":"df","v":10,"p":1.2},{"s":"df","v":20,"p":1.2}
],
"d5":[
{"s":"sm","v":-12.55,"p":0.0},{"s":"sm","v":-12.1,"p":0.4},{"s":"sm","v":-11.65,"p":0.7},{"s":"sm","v":-11.2,"p":1.1},{"s":"sm","v":-10.8,"p":1.5},{"s":"sm","v":-10.35,"p":2.0},{"s":"sm","v":-9.9,"p":2.4},{"s":"sm","v":-9.45,"p":3.2},{"s":"sm","v":-9.0,"p":4.1},{"s":"sm","v":-8.55,"p":5.1},{"s":"sm","v":-8.1,"p":6.1},{"s":"sm","v":-7.75,"p":7.0},{"s":"sm","v":-7.45,"p":8.0},{"s":"sm","v":-7.1,"p":8.8},{"s":"sm","v":-6.8,"p":9.5},{"s":"sm","v":-6.55,"p":9.9},{"s":"sm","v":-6.35,"p":10.0},{"s":"sm","v":-6.0,"p":9.4},{"s":"sm","v":-5.7,"p":8.8},{"s":"sm","v":-5.35,"p":8.5},{"s":"sm","v":-5.0,"p":8.5},{"s":"sm","v":-4.7,"p":8.9},{"s":"sm","v":-4.35,"p":9.5},{"s":"sm","v":-4.0,"p":10.4},{"s":"sm","v":-3.7,"p":11.5},{"s":"sm","v":-3.25,"p":13.2},{"s":"sm","v":-2.8,"p":14.9},{"s":"sm","v":-2.45,"p":16.6},{"s":"sm","v":-2.1,"p":18.3},{"s":"sm","v":-1.8,"p":19.8},{"s":"sm","v":-1.5,"p":21.2},{"s":"sm","v":-1.25,"p":22.7},{"s":"sm","v":-1.05,"p":24.1},{"s":"sm","v":-0.9,"p":26.5},{"s":"sm","v":-0.8,"p":28.0},{"s":"sm","v":-0.7,"p":31.0},{"s":"sm","v":-0.6,"p":33.9},{"s":"sm","v":-0.45,"p":36.8},{"s":"sm","v":-0.35,"p":39.3},{"s":"sm","v":-0.15,"p":39.8},{"s":"sm","v":0.07,"p":38.8},{"s":"sm","v":0.3,"p":37.2},{"s":"sm","v":0.5,"p":35.6},{"s":"sm","v":0.75,"p":32.4},{"s":"sm","v":0.95,"p":28.5},{"s":"sm","v":1.2,"p":26.1},{"s":"sm","v":1.4,"p":24.4},{"s":"sm","v":1.6,"p":22.7},{"s":"sm","v":1.85,"p":21.0},{"s":"sm","v":2.05,"p":19.3},{"s":"sm","v":2.25,"p":17.8},{"s":"sm","v":2.5,"p":16.3},{"s":"sm","v":2.85,"p":14.9},{"s":"sm","v":3.2,"p":13.4},{"s":"sm","v":3.6,"p":12.2},{"s":"sm","v":4.0,"p":11.2},{"s":"sm","v":4.4,"p":10.3},{"s":"sm","v":4.8,"p":9.5},{"s":"sm","v":5.2,"p":8.9},{"s":"sm","v":5.4,"p":8.5},{"s":"sm","v":5.6,"p":6.6},{"s":"sm","v":6.0,"p":5.9},{"s":"sm","v":6.5,"p":5.1},{"s":"sm","v":6.95,"p":4.5},{"s":"sm","v":7.4,"p":3.9},{"s":"sm","v":7.85,"p":3.4},{"s":"sm","v":8.3,"p":2.9},{"s":"sm","v":8.75,"p":2.5},{"s":"sm","v":9.2,"p":2.2},{"s":"sm","v":9.6,"p":1.9},{"s":"sm","v":10.0,"p":1.7},{"s":"sm","v":10.45,"p":1.4},{"s":"sm","v":10.9,"p":1.2},{"s":"sm","v":11.35,"p":0.9},{"s":"sm","v":11.8,"p":0.7},
{"s":"dm","v":-20,"p":0.6},{"s":"dm","v":-19.5,"p":1.4},{"s":"dm","v":-19,"p":0.8},{"s":"dm","v":-18.5,"p":1.6},{"s":"dm","v":-18,"p":1.0},{"s":"dm","v":-17.5,"p":1.3},{"s":"dm","v":-17,"p":0.7},{"s":"dm","v":-16.5,"p":1.5},{"s":"dm","v":-16,"p":1.1},{"s":"dm","v":-15.5,"p":1.8},{"s":"dm","v":-15,"p":1.0},{"s":"dm","v":-14.5,"p":1.6},{"s":"dm","v":-14,"p":1.2},{"s":"dm","v":-13.5,"p":1.9},{"s":"dm","v":-13,"p":1.5},{"s":"dm","v":-12.5,"p":2.0},{"s":"dm","v":-12,"p":2.6},{"s":"dm","v":-11.5,"p":3.5},{"s":"dm","v":-11,"p":5.0},{"s":"dm","v":-10.5,"p":7.5},{"s":"dm","v":-10,"p":10.0},{"s":"dm","v":-9.5,"p":12.5},{"s":"dm","v":-9,"p":14.5},{"s":"dm","v":-8.5,"p":16.3},{"s":"dm","v":-8,"p":17.8},{"s":"dm","v":-7.5,"p":18.8},{"s":"dm","v":-7,"p":19.0},{"s":"dm","v":-6.5,"p":18.5},{"s":"dm","v":-6,"p":17.8},{"s":"dm","v":-5.5,"p":16.5},{"s":"dm","v":-5,"p":15.0},{"s":"dm","v":-4.5,"p":13.0},{"s":"dm","v":-4,"p":11.0},{"s":"dm","v":-3.5,"p":8.8},{"s":"dm","v":-3,"p":6.5},{"s":"dm","v":-2.5,"p":4.5},{"s":"dm","v":-2,"p":3.0},{"s":"dm","v":-1.5,"p":2.0},{"s":"dm","v":-1,"p":1.4},{"s":"dm","v":-0.5,"p":1.0},{"s":"dm","v":0,"p":0.7},{"s":"dm","v":0.5,"p":1.2},{"s":"dm","v":1,"p":0.5},{"s":"dm","v":1.5,"p":0.9},{"s":"dm","v":2,"p":1.3},{"s":"dm","v":3,"p":1.0},{"s":"dm","v":4,"p":0.8},{"s":"dm","v":5,"p":0.6},{"s":"dm","v":6,"p":0.5},{"s":"dm","v":7,"p":1.4},{"s":"dm","v":8,"p":1.0},{"s":"dm","v":9,"p":0.9},{"s":"dm","v":10,"p":0.6},{"s":"dm","v":11,"p":0.5},{"s":"dm","v":12,"p":1.1},{"s":"dm","v":13,"p":0.9},{"s":"dm","v":14,"p":0.7},{"s":"dm","v":15,"p":0.6},{"s":"dm","v":16,"p":0.8},{"s":"dm","v":17,"p":0.6},{"s":"dm","v":18,"p":1.3},{"s":"dm","v":19,"p":1.2},{"s":"dm","v":20,"p":1.4},
{"s":"sf","v":-12.55,"p":3.2},{"s":"sf","v":-12.1,"p":4.6},{"s":"sf","v":-11.5,"p":5.1},{"s":"sf","v":-10.8,"p":5.6},{"s":"sf","v":-10.1,"p":6.0},{"s":"sf","v":-9.45,"p":6.6},{"s":"sf","v":-8.8,"p":7.6},{"s":"sf","v":-8.1,"p":9.0},{"s":"sf","v":-7.4,"p":10.4},{"s":"sf","v":-6.9,"p":11.2},{"s":"sf","v":-6.55,"p":11.5},{"s":"sf","v":-6.1,"p":11.2},{"s":"sf","v":-5.7,"p":10.8},{"s":"sf","v":-5.2,"p":10.6},{"s":"sf","v":-4.8,"p":10.7},{"s":"sf","v":-4.3,"p":11.4},{"s":"sf","v":-3.9,"p":12.4},{"s":"sf","v":-3.45,"p":13.7},{"s":"sf","v":-3.0,"p":15.4},{"s":"sf","v":-2.55,"p":17.8},{"s":"sf","v":-2.1,"p":20.7},{"s":"sf","v":-1.8,"p":23.8},{"s":"sf","v":-1.5,"p":27.1},{"s":"sf","v":-1.25,"p":30.2},{"s":"sf","v":-1.04,"p":32.9},{"s":"sf","v":-0.85,"p":35.6},{"s":"sf","v":-0.7,"p":37.8},{"s":"sf","v":-0.5,"p":39.6},{"s":"sf","v":-0.3,"p":40.0},{"s":"sf","v":-0.1,"p":39.8},{"s":"sf","v":0.07,"p":39.3},{"s":"sf","v":0.3,"p":36.8},{"s":"sf","v":0.5,"p":34.4},{"s":"sf","v":0.75,"p":31.5},{"s":"sf","v":0.96,"p":29.0},{"s":"sf","v":1.25,"p":26.1},{"s":"sf","v":1.6,"p":23.7},{"s":"sf","v":2.0,"p":21.3},{"s":"sf","v":2.5,"p":19.3},{"s":"sf","v":3.1,"p":17.2},{"s":"sf","v":3.85,"p":15.4},{"s":"sf","v":4.7,"p":13.4},{"s":"sf","v":5.6,"p":11.5},{"s":"sf","v":6.7,"p":9.6},{"s":"sf","v":7.85,"p":8.0},{"s":"sf","v":8.9,"p":6.9},{"s":"sf","v":10.0,"p":5.9},{"s":"sf","v":11.0,"p":5.0},{"s":"sf","v":12.0,"p":4.1},
{"s":"df","v":-20,"p":1.3},{"s":"df","v":-16.5,"p":1.5},{"s":"df","v":-14,"p":1.7},{"s":"df","v":-12.55,"p":2.0},{"s":"df","v":-12,"p":2.5},{"s":"df","v":-11.45,"p":3.2},{"s":"df","v":-11.0,"p":4.7},{"s":"df","v":-10.55,"p":6.6},{"s":"df","v":-10.2,"p":8.5},{"s":"df","v":-9.9,"p":10.5},{"s":"df","v":-9.45,"p":12.5},{"s":"df","v":-9.0,"p":14.4},{"s":"df","v":-8.55,"p":16.2},{"s":"df","v":-8.1,"p":17.8},{"s":"df","v":-7.6,"p":19.0},{"s":"df","v":-7.15,"p":19.5},{"s":"df","v":-6.6,"p":19.2},{"s":"df","v":-5.9,"p":17.8},{"s":"df","v":-5.45,"p":16.7},{"s":"df","v":-5.0,"p":15.4},{"s":"df","v":-4.55,"p":13.5},{"s":"df","v":-4.1,"p":11.5},{"s":"df","v":-3.75,"p":9.7},{"s":"df","v":-3.45,"p":8.0},{"s":"df","v":-3.1,"p":6.2},{"s":"df","v":-2.8,"p":4.6},{"s":"df","v":-2.35,"p":3.3},{"s":"df","v":-1.9,"p":2.4},{"s":"df","v":-0.6,"p":1.7},{"s":"df","v":1,"p":1.5},{"s":"df","v":5.6,"p":1.3},{"s":"df","v":12,"p":1.25},{"s":"df","v":20,"p":1.2}
],
"d6":[
{"s":"sm","v":-12.7,"p":0.0},{"s":"sm","v":-12.35,"p":0.3},{"s":"sm","v":-12.0,"p":0.5},{"s":"sm","v":-11.7,"p":0.8},{"s":"sm","v":-11.4,"p":1.2},{"s":"sm","v":-11.05,"p":1.9},{"s":"sm","v":-10.7,"p":2.7},{"s":"sm","v":-10.5,"p":3.6},{"s":"sm","v":-10.3,"p":4.6},{"s":"sm","v":-10.05,"p":5.4},{"s":"sm","v":-9.8,"p":6.1},{"s":"sm","v":-9.45,"p":6.4},{"s":"sm","v":-9.15,"p":6.6},{"s":"sm","v":-8.8,"p":7.1},{"s":"sm","v":-8.5,"p":7.6},{"s":"sm","v":-8.15,"p":8.5},{"s":"sm","v":-7.8,"p":9.5},{"s":"sm","v":-7.45,"p":10.5},{"s":"sm","v":-7.15,"p":11.5},{"s":"sm","v":-6.8,"p":12.0},{"s":"sm","v":-6.5,"p":12.4},{"s":"sm","v":-6.25,"p":12.0},{"s":"sm","v":-6.05,"p":11.5},{"s":"sm","v":-5.7,"p":10.7},{"s":"sm","v":-5.4,"p":10.0},{"s":"sm","v":-5.05,"p":9.5},{"s":"sm","v":-4.7,"p":9.0},{"s":"sm","v":-4.4,"p":9.1},{"s":"sm","v":-4.05,"p":9.5},{"s":"sm","v":-3.8,"p":10.4},{"s":"sm","v":-3.6,"p":11.5},{"s":"sm","v":-3.25,"p":12.4},{"s":"sm","v":-2.9,"p":13.4},{"s":"sm","v":-2.7,"p":14.8},{"s":"sm","v":-2.5,"p":16.3},{"s":"sm","v":-2.25,"p":18.7},{"s":"sm","v":-2.05,"p":21.2},{"s":"sm","v":-1.8,"p":22.9},{"s":"sm","v":-1.6,"p":24.6},{"s":"sm","v":-1.4,"p":27.0},{"s":"sm","v":-1.2,"p":29.5},{"s":"sm","v":-1.0,"p":31.5},{"s":"sm","v":-0.85,"p":33.4},{"s":"sm","v":-0.7,"p":36.0},{"s":"sm","v":-0.6,"p":38.8},{"s":"sm","v":-0.3,"p":40.7},{"s":"sm","v":-0.05,"p":39.0},{"s":"sm","v":0.15,"p":37.3},{"s":"sm","v":0.4,"p":34.9},{"s":"sm","v":0.6,"p":32.0},{"s":"sm","v":0.8,"p":29.5},{"s":"sm","v":1.05,"p":27.1},{"s":"sm","v":1.3,"p":22.7},{"s":"sm","v":1.5,"p":19.3},{"s":"sm","v":1.7,"p":17.2},{"s":"sm","v":1.9,"p":15.4},{"s":"sm","v":2.25,"p":14.4},{"s":"sm","v":2.6,"p":13.4},{"s":"sm","v":3.05,"p":12.4},{"s":"sm","v":3.5,"p":11.5},{"s":"sm","v":3.95,"p":10.7},{"s":"sm","v":4.4,"p":10.0},{"s":"sm","v":4.85,"p":9.5},{"s":"sm","v":5.3,"p":9.0},{"s":"sm","v":5.55,"p":8.2},{"s":"sm","v":5.7,"p":7.6},{"s":"sm","v":5.8,"p":5.6},{"s":"sm","v":6.2,"p":5.1},{"s":"sm","v":6.6,"p":4.6},{"s":"sm","v":7.05,"p":4.1},{"s":"sm","v":7.5,"p":3.7},{"s":"sm","v":7.95,"p":3.2},{"s":"sm","v":8.4,"p":2.7},{"s":"sm","v":8.85,"p":2.3},{"s":"sm","v":9.3,"p":2.0},{"s":"sm","v":9.75,"p":1.7},{"s":"sm","v":10.2,"p":1.5},{"s":"sm","v":10.6,"p":1.2},{"s":"sm","v":11.0,"p":1.0},{"s":"sm","v":11.45,"p":0.7},{"s":"sm","v":11.9,"p":0.5},
{"s":"dm","v":-20,"p":0.5},{"s":"dm","v":-19.5,"p":1.3},{"s":"dm","v":-19,"p":0.7},{"s":"dm","v":-18.5,"p":1.6},{"s":"dm","v":-18,"p":0.9},{"s":"dm","v":-17.5,"p":1.2},{"s":"dm","v":-17,"p":0.6},{"s":"dm","v":-16.5,"p":1.5},{"s":"dm","v":-16,"p":1.0},{"s":"dm","v":-15.5,"p":1.7},{"s":"dm","v":-15,"p":0.8},{"s":"dm","v":-14.5,"p":1.4},{"s":"dm","v":-14,"p":1.0},{"s":"dm","v":-13.5,"p":1.6},{"s":"dm","v":-13,"p":1.4},{"s":"dm","v":-12.5,"p":1.8},{"s":"dm","v":-12,"p":2.5},{"s":"dm","v":-11.5,"p":3.4},{"s":"dm","v":-11,"p":5.0},{"s":"dm","v":-10.5,"p":7.5},{"s":"dm","v":-10,"p":10.0},{"s":"dm","v":-9.5,"p":12.3},{"s":"dm","v":-9,"p":14.5},{"s":"dm","v":-8.5,"p":16.0},{"s":"dm","v":-8,"p":17.3},{"s":"dm","v":-7.5,"p":18.2},{"s":"dm","v":-7,"p":18.5},{"s":"dm","v":-6.5,"p":18.0},{"s":"dm","v":-6,"p":17.3},{"s":"dm","v":-5.5,"p":16.0},{"s":"dm","v":-5,"p":14.8},{"s":"dm","v":-4.5,"p":13.0},{"s":"dm","v":-4,"p":11.0},{"s":"dm","v":-3.5,"p":8.5},{"s":"dm","v":-3,"p":6.3},{"s":"dm","v":-2.5,"p":4.3},{"s":"dm","v":-2,"p":2.8},{"s":"dm","v":-1.5,"p":1.9},{"s":"dm","v":-1,"p":1.3},{"s":"dm","v":-0.5,"p":0.9},{"s":"dm","v":0,"p":1.1},{"s":"dm","v":0.5,"p":0.6},{"s":"dm","v":1,"p":1.0},{"s":"dm","v":1.5,"p":0.5},{"s":"dm","v":2,"p":0.9},{"s":"dm","v":3,"p":0.6},{"s":"dm","v":4,"p":0.4},{"s":"dm","v":5,"p":1.1},{"s":"dm","v":6,"p":0.9},{"s":"dm","v":7,"p":1.0},{"s":"dm","v":8,"p":0.7},{"s":"dm","v":9,"p":0.5},{"s":"dm","v":10,"p":1.1},{"s":"dm","v":11,"p":0.9},{"s":"dm","v":12,"p":1.0},{"s":"dm","v":13,"p":1.2},{"s":"dm","v":14,"p":0.9},{"s":"dm","v":15,"p":1.0},{"s":"dm","v":16,"p":1.3},{"s":"dm","v":17,"p":1.1},{"s":"dm","v":18,"p":1.0},{"s":"dm","v":19,"p":0.8},{"s":"dm","v":20,"p":0.9},
{"s":"sf","v":-12.7,"p":2.9},{"s":"sf","v":-12.25,"p":4.4},{"s":"sf","v":-11.5,"p":5.0},{"s":"sf","v":-10.7,"p":5.6},{"s":"sf","v":-10.1,"p":6.3},{"s":"sf","v":-9.6,"p":7.1},{"s":"sf","v":-9.0,"p":8.3},{"s":"sf","v":-8.5,"p":9.5},{"s":"sf","v":-7.9,"p":11.0},{"s":"sf","v":-7.4,"p":12.2},{"s":"sf","v":-6.95,"p":12.8},{"s":"sf","v":-6.6,"p":12.9},{"s":"sf","v":-6.2,"p":12.7},{"s":"sf","v":-5.8,"p":12.2},{"s":"sf","v":-5.45,"p":11.4},{"s":"sf","v":-5.15,"p":10.7},{"s":"sf","v":-4.8,"p":10.5},{"s":"sf","v":-4.5,"p":10.5},{"s":"sf","v":-4.1,"p":11.0},{"s":"sf","v":-3.8,"p":11.9},{"s":"sf","v":-3.5,"p":13.2},{"s":"sf","v":-3.2,"p":14.9},{"s":"sf","v":-2.75,"p":17.6},{"s":"sf","v":-2.3,"p":20.7},{"s":"sf","v":-1.9,"p":24.5},{"s":"sf","v":-1.6,"p":27.1},{"s":"sf","v":-1.2,"p":32.4},{"s":"sf","v":-0.95,"p":35.5},{"s":"sf","v":-0.73,"p":38.3},{"s":"sf","v":-0.45,"p":40.2},{"s":"sf","v":-0.25,"p":39.8},{"s":"sf","v":-0.07,"p":38.3},{"s":"sf","v":0.1,"p":35.8},{"s":"sf","v":0.3,"p":32.9},{"s":"sf","v":0.55,"p":30.0},{"s":"sf","v":0.8,"p":27.1},{"s":"sf","v":1.1,"p":24.5},{"s":"sf","v":1.5,"p":22.2},{"s":"sf","v":2.0,"p":19.7},{"s":"sf","v":2.6,"p":17.3},{"s":"sf","v":3.3,"p":15.2},{"s":"sf","v":4.0,"p":13.4},{"s":"sf","v":4.9,"p":11.6},{"s":"sf","v":5.8,"p":10.0},{"s":"sf","v":6.9,"p":8.5},{"s":"sf","v":8.0,"p":7.1},{"s":"sf","v":9.1,"p":6.2},{"s":"sf","v":10.25,"p":5.4},{"s":"sf","v":11.5,"p":4.6},{"s":"sf","v":11.9,"p":4.1},{"s":"sf","v":12.2,"p":3.2},
{"s":"df","v":-20,"p":1.0},{"s":"df","v":-17,"p":1.2},{"s":"df","v":-14.3,"p":1.5},{"s":"df","v":-12.9,"p":1.9},{"s":"df","v":-12.0,"p":2.4},{"s":"df","v":-11.55,"p":3.4},{"s":"df","v":-11.15,"p":4.6},{"s":"df","v":-10.8,"p":6.0},{"s":"df","v":-10.5,"p":7.6},{"s":"df","v":-10.15,"p":9.3},{"s":"df","v":-9.8,"p":11.0},{"s":"df","v":-9.35,"p":13.0},{"s":"df","v":-8.9,"p":14.9},{"s":"df","v":-8.5,"p":16.2},{"s":"df","v":-8.05,"p":17.3},{"s":"df","v":-7.6,"p":18.3},{"s":"df","v":-7.15,"p":18.8},{"s":"df","v":-6.6,"p":18.6},{"s":"df","v":-6.2,"p":18.1},{"s":"df","v":-5.8,"p":17.3},{"s":"df","v":-5.35,"p":16.2},{"s":"df","v":-4.9,"p":14.9},{"s":"df","v":-4.45,"p":13.3},{"s":"df","v":-4.05,"p":11.5},{"s":"df","v":-3.7,"p":9.6},{"s":"df","v":-3.4,"p":8.0},{"s":"df","v":-3.05,"p":6.2},{"s":"df","v":-2.7,"p":4.6},{"s":"df","v":-2.25,"p":3.3},{"s":"df","v":-1.8,"p":2.4},{"s":"df","v":-0.5,"p":1.5},{"s":"df","v":1,"p":1.25},{"s":"df","v":5.76,"p":1.0},{"s":"df","v":12,"p":0.9},{"s":"df","v":20,"p":0.8}
]
},
"columns":3,
"spacing":{"row":95,"column":99},
"bounds":"flush",
"resolve":{"scale":{"color":"shared"},"legend":{"color":"shared"}},
"concat":[
{"width":301,"height":307,"title":{"text":"Height 2139 m","offset":-8},"data":{"name":"d1"},
"layer":[
{"encoding":{"x":{"field":"v","type":"quantitative","scale":{"domain":[-20,20],"nice":false,"zero":false},"axis":{"values":[-20,0,20],"title":null}},"y":{"field":"p","type":"quantitative","scale":{"domain":[0,44.75],"nice":false,"zero":false},"axis":{"values":[0,10,20,30,40],"title":"Echo Power Spectrum (dB)"}}},
"layer":[
{"transform":[{"filter":"datum.s=='sm'"}],"mark":{"type":"point","shape":"circle","filled":true,"size":80,"opacity":0.9,"clip":true},"encoding":{"color":{"field":"s","type":"nominal","title":null,"scale":{"domain":["sm","sf","dm","df"],"range":["#5F9EA0","#2F4F4F","#E04848","#8B0000"]},"legend":{"orient":"none","legendX":129,"legendY":798,"title":null,"labelExpr":"datum.value=='sm'?'Single-EAR-measured':datum.value=='dm'?'Dual-EAR+BLR-measured':datum.value=='sf'?'Single-EAR-fitting':'Dual-EAR+BLR-fitting'","encode":{"symbols":{"update":{"shape":{"signal":"datum.value=='sm'?'circle':datum.value=='dm'?'M-1,0H1M0,-1V1':'M-1.3,0H1.3'"},"size":{"signal":"datum.value=='sm'?45:datum.value=='dm'?196:1600"},"fill":{"signal":"datum.value=='sm'?'#5F9EA0':'transparent'"},"stroke":{"signal":"datum.value=='sm'?'transparent':datum.value=='dm'?'#E04848':datum.value=='sf'?'#2F4F4F':'#8B0000'"},"strokeWidth":{"signal":"datum.value=='dm'?1.6:datum.value=='sm'?0:3"},"opacity":{"value":1}}}}}}}},
{"transform":[{"filter":"datum.s=='dm'"}],"mark":{"type":"point","shape":"M-1,0H1M0,-1V1","filled":false,"size":144,"strokeWidth":2,"opacity":0.8,"clip":true},"encoding":{"color":{"field":"s","type":"nominal","title":null,"scale":{"domain":["sm","sf","dm","df"],"range":["#5F9EA0","#2F4F4F","#E04848","#8B0000"]},"legend":{"orient":"none","legendX":129,"legendY":798,"title":null,"labelExpr":"datum.value=='sm'?'Single-EAR-measured':datum.value=='dm'?'Dual-EAR+BLR-measured':datum.value=='sf'?'Single-EAR-fitting':'Dual-EAR+BLR-fitting'","encode":{"symbols":{"update":{"shape":{"signal":"datum.value=='sm'?'circle':datum.value=='dm'?'M-1,0H1M0,-1V1':'M-1.3,0H1.3'"},"size":{"signal":"datum.value=='sm'?45:datum.value=='dm'?196:1600"},"fill":{"signal":"datum.value=='sm'?'#5F9EA0':'transparent'"},"stroke":{"signal":"datum.value=='sm'?'transparent':datum.value=='dm'?'#E04848':datum.value=='sf'?'#2F4F4F':'#8B0000'"},"strokeWidth":{"signal":"datum.value=='dm'?1.6:datum.value=='sm'?0:3"},"opacity":{"value":1}}}}}}}},
{"transform":[{"filter":"datum.s=='sf'"}],"mark":{"type":"line","strokeWidth":3,"interpolate":"monotone","clip":true},"encoding":{"color":{"field":"s","type":"nominal","title":null,"scale":{"domain":["sm","sf","dm","df"],"range":["#5F9EA0","#2F4F4F","#E04848","#8B0000"]},"legend":{"orient":"none","legendX":129,"legendY":798,"title":null,"labelExpr":"datum.value=='sm'?'Single-EAR-measured':datum.value=='dm'?'Dual-EAR+BLR-measured':datum.value=='sf'?'Single-EAR-fitting':'Dual-EAR+BLR-fitting'","encode":{"symbols":{"update":{"shape":{"signal":"datum.value=='sm'?'circle':datum.value=='dm'?'M-1,0H1M0,-1V1':'M-1.3,0H1.3'"},"size":{"signal":"datum.value=='sm'?45:datum.value=='dm'?196:1600"},"fill":{"signal":"datum.value=='sm'?'#5F9EA0':'transparent'"},"stroke":{"signal":"datum.value=='sm'?'transparent':datum.value=='dm'?'#E04848':datum.value=='sf'?'#2F4F4F':'#8B0000'"},"strokeWidth":{"signal":"datum.value=='dm'?1.6:datum.value=='sm'?0:3"},"opacity":{"value":1}}}}}}}},
{"transform":[{"filter":"datum.s=='df'"}],"mark":{"type":"line","strokeWidth":3,"interpolate":"monotone","clip":true},"encoding":{"color":{"field":"s","type":"nominal","title":null,"scale":{"domain":["sm","sf","dm","df"],"range":["#5F9EA0","#2F4F4F","#E04848","#8B0000"]},"legend":{"orient":"none","legendX":129,"legendY":798,"title":null,"labelExpr":"datum.value=='sm'?'Single-EAR-measured':datum.value=='dm'?'Dual-EAR+BLR-measured':datum.value=='sf'?'Single-EAR-fitting':'Dual-EAR+BLR-fitting'","encode":{"symbols":{"update":{"shape":{"signal":"datum.value=='sm'?'circle':datum.value=='dm'?'M-1,0H1M0,-1V1':'M-1.3,0H1.3'"},"size":{"signal":"datum.value=='sm'?45:datum.value=='dm'?196:1600"},"fill":{"signal":"datum.value=='sm'?'#5F9EA0':'transparent'"},"stroke":{"signal":"datum.value=='sm'?'transparent':datum.value=='dm'?'#E04848':datum.value=='sf'?'#2F4F4F':'#8B0000'"},"strokeWidth":{"signal":"datum.value=='dm'?1.6:datum.value=='sm'?0:3"},"opacity":{"value":1}}}}}}}}
]},
{"data":{"name":"s1"},"layer":[
{"mark":{"type":"text","align":"left","baseline":"alphabetic","fontSize":18,"fontStyle":"italic","lineHeight":21,"color":"black"},"encoding":{"x":{"datum":-17.78,"type":"quantitative"},"y":{"datum":41,"type":"quantitative"},"text":{"value":["r","r"]}}},
{"mark":{"type":"text","align":"left","baseline":"alphabetic","fontSize":18,"lineHeight":21,"dx":7.8,"color":"black"},"encoding":{"x":{"datum":-17.78,"type":"quantitative"},"y":{"datum":41,"type":"quantitative"},"text":{"value":["-Single","-Dual"]}}},
{"mark":{"type":"text","align":"left","baseline":"alphabetic","fontSize":18,"lineHeight":21,"dx":97,"color":"black"},"encoding":{"x":{"datum":-17.78,"type":"quantitative"},"y":{"datum":41,"type":"quantitative"},"text":{"value":["=","="]}}},
{"mark":{"type":"text","align":"left","baseline":"alphabetic","fontSize":18,"dx":128,"color":"black"},"encoding":{"x":{"datum":-17.78,"type":"quantitative"},"y":{"datum":41,"type":"quantitative"},"text":{"field":"a","type":"nominal"}}},
{"mark":{"type":"text","align":"left","baseline":"alphabetic","fontSize":18,"dx":128,"color":"black"},"encoding":{"x":{"datum":-17.78,"type":"quantitative"},"y":{"datum":37.94,"type":"quantitative"},"text":{"field":"b","type":"nominal"}}}
]}
]},
{"width":301,"height":307,"title":{"text":"Height 2290 m"},"data":{"name":"d2"},
"layer":[
{"encoding":{"x":{"field":"v","type":"quantitative","scale":{"domain":[-20,20],"nice":false,"zero":false},"axis":{"values":[-20,0,20],"title":null}},"y":{"field":"p","type":"quantitative","scale":{"domain":[0,44.75],"nice":false,"zero":false},"axis":{"values":[0,10,20,30,40],"title":null}}},
"layer":[
{"transform":[{"filter":"datum.s=='sm'"}],"mark":{"type":"point","shape":"circle","filled":true,"size":80,"opacity":0.9,"clip":true},"encoding":{"color":{"field":"s","type":"nominal","title":null,"scale":{"domain":["sm","sf","dm","df"],"range":["#5F9EA0","#2F4F4F","#E04848","#8B0000"]},"legend":{"orient":"none","legendX":129,"legendY":798,"title":null,"labelExpr":"datum.value=='sm'?'Single-EAR-measured':datum.value=='dm'?'Dual-EAR+BLR-measured':datum.value=='sf'?'Single-EAR-fitting':'Dual-EAR+BLR-fitting'","encode":{"symbols":{"update":{"shape":{"signal":"datum.value=='sm'?'circle':datum.value=='dm'?'M-1,0H1M0,-1V1':'M-1.3,0H1.3'"},"size":{"signal":"datum.value=='sm'?45:datum.value=='dm'?196:1600"},"fill":{"signal":"datum.value=='sm'?'#5F9EA0':'transparent'"},"stroke":{"signal":"datum.value=='sm'?'transparent':datum.value=='dm'?'#E04848':datum.value=='sf'?'#2F4F4F':'#8B0000'"},"strokeWidth":{"signal":"datum.value=='dm'?1.6:datum.value=='sm'?0:3"},"opacity":{"value":1}}}}}}}},
{"transform":[{"filter":"datum.s=='dm'"}],"mark":{"type":"point","shape":"M-1,0H1M0,-1V1","filled":false,"size":144,"strokeWidth":2,"opacity":0.8,"clip":true},"encoding":{"color":{"field":"s","type":"nominal","title":null,"scale":{"domain":["sm","sf","dm","df"],"range":["#5F9EA0","#2F4F4F","#E04848","#8B0000"]},"legend":{"orient":"none","legendX":129,"legendY":798,"title":null,"labelExpr":"datum.value=='sm'?'Single-EAR-measured':datum.value=='dm'?'Dual-EAR+BLR-measured':datum.value=='sf'?'Single-EAR-fitting':'Dual-EAR+BLR-fitting'","encode":{"symbols":{"update":{"shape":{"signal":"datum.value=='sm'?'circle':datum.value=='dm'?'M-1,0H1M0,-1V1':'M-1.3,0H1.3'"},"size":{"signal":"datum.value=='sm'?45:datum.value=='dm'?196:1600"},"fill":{"signal":"datum.value=='sm'?'#5F9EA0':'transparent'"},"stroke":{"signal":"datum.value=='sm'?'transparent':datum.value=='dm'?'#E04848':datum.value=='sf'?'#2F4F4F':'#8B0000'"},"strokeWidth":{"signal":"datum.value=='dm'?1.6:datum.value=='sm'?0:3"},"opacity":{"value":1}}}}}}}},
{"transform":[{"filter":"datum.s=='sf'"}],"mark":{"type":"line","strokeWidth":3,"interpolate":"monotone","clip":true},"encoding":{"color":{"field":"s","type":"nominal","title":null,"scale":{"domain":["sm","sf","dm","df"],"range":["#5F9EA0","#2F4F4F","#E04848","#8B0000"]},"legend":{"orient":"none","legendX":129,"legendY":798,"title":null,"labelExpr":"datum.value=='sm'?'Single-EAR-measured':datum.value=='dm'?'Dual-EAR+BLR-measured':datum.value=='sf'?'Single-EAR-fitting':'Dual-EAR+BLR-fitting'","encode":{"symbols":{"update":{"shape":{"signal":"datum.value=='sm'?'circle':datum.value=='dm'?'M-1,0H1M0,-1V1':'M-1.3,0H1.3'"},"size":{"signal":"datum.value=='sm'?45:datum.value=='dm'?196:1600"},"fill":{"signal":"datum.value=='sm'?'#5F9EA0':'transparent'"},"stroke":{"signal":"datum.value=='sm'?'transparent':datum.value=='dm'?'#E04848':datum.value=='sf'?'#2F4F4F':'#8B0000'"},"strokeWidth":{"signal":"datum.value=='dm'?1.6:datum.value=='sm'?0:3"},"opacity":{"value":1}}}}}}}},
{"transform":[{"filter":"datum.s=='df'"}],"mark":{"type":"line","strokeWidth":3,"interpolate":"monotone","clip":true},"encoding":{"color":{"field":"s","type":"nominal","title":null,"scale":{"domain":["sm","sf","dm","df"],"range":["#5F9EA0","#2F4F4F","#E04848","#8B0000"]},"legend":{"orient":"none","legendX":129,"legendY":798,"title":null,"labelExpr":"datum.value=='sm'?'Single-EAR-measured':datum.value=='dm'?'Dual-EAR+BLR-measured':datum.value=='sf'?'Single-EAR-fitting':'Dual-EAR+BLR-fitting'","encode":{"symbols":{"update":{"shape":{"signal":"datum.value=='sm'?'circle':datum.value=='dm'?'M-1,0H1M0,-1V1':'M-1.3,0H1.3'"},"size":{"signal":"datum.value=='sm'?45:datum.value=='dm'?196:1600"},"fill":{"signal":"datum.value=='sm'?'#5F9EA0':'transparent'"},"stroke":{"signal":"datum.value=='sm'?'transparent':datum.value=='dm'?'#E04848':datum.value=='sf'?'#2F4F4F':'#8B0000'"},"strokeWidth":{"signal":"datum.value=='dm'?1.6:datum.value=='sm'?0:3"},"opacity":{"value":1}}}}}}}}
]},
{"data":{"name":"s2"},"layer":[
{"mark":{"type":"text","align":"left","baseline":"alphabetic","fontSize":18,"fontStyle":"italic","lineHeight":21,"color":"black"},"encoding":{"x":{"datum":-17.78,"type":"quantitative"},"y":{"datum":41,"type":"quantitative"},"text":{"value":["r","r"]}}},
{"mark":{"type":"text","align":"left","baseline":"alphabetic","fontSize":18,"lineHeight":21,"dx":7.8,"color":"black"},"encoding":{"x":{"datum":-17.78,"type":"quantitative"},"y":{"datum":41,"type":"quantitative"},"text":{"value":["-Single","-Dual"]}}},
{"mark":{"type":"text","align":"left","baseline":"alphabetic","fontSize":18,"lineHeight":21,"dx":97,"color":"black"},"encoding":{"x":{"datum":-17.78,"type":"quantitative"},"y":{"datum":41,"type":"quantitative"},"text":{"value":["=","="]}}},
{"mark":{"type":"text","align":"left","baseline":"alphabetic","fontSize":18,"dx":128,"color":"black"},"encoding":{"x":{"datum":-17.78,"type":"quantitative"},"y":{"datum":41,"type":"quantitative"},"text":{"field":"a","type":"nominal"}}},
{"mark":{"type":"text","align":"left","baseline":"alphabetic","fontSize":18,"dx":128,"color":"black"},"encoding":{"x":{"datum":-17.78,"type":"quantitative"},"y":{"datum":37.94,"type":"quantitative"},"text":{"field":"b","type":"nominal"}}}
]}
]},
{"width":301,"height":307,"title":{"text":"Height 2440 m"},"data":{"name":"d3"},
"layer":[
{"encoding":{"x":{"field":"v","type":"quantitative","scale":{"domain":[-20,20],"nice":false,"zero":false},"axis":{"values":[-20,0,20],"title":null}},"y":{"field":"p","type":"quantitative","scale":{"domain":[0,44.75],"nice":false,"zero":false},"axis":{"values":[0,10,20,30,40],"title":null}}},
"layer":[
{"transform":[{"filter":"datum.s=='sm'"}],"mark":{"type":"point","shape":"circle","filled":true,"size":80,"opacity":0.9,"clip":true},"encoding":{"color":{"field":"s","type":"nominal","title":null,"scale":{"domain":["sm","sf","dm","df"],"range":["#5F9EA0","#2F4F4F","#E04848","#8B0000"]},"legend":{"orient":"none","legendX":129,"legendY":798,"title":null,"labelExpr":"datum.value=='sm'?'Single-EAR-measured':datum.value=='dm'?'Dual-EAR+BLR-measured':datum.value=='sf'?'Single-EAR-fitting':'Dual-EAR+BLR-fitting'","encode":{"symbols":{"update":{"shape":{"signal":"datum.value=='sm'?'circle':datum.value=='dm'?'M-1,0H1M0,-1V1':'M-1.3,0H1.3'"},"size":{"signal":"datum.value=='sm'?45:datum.value=='dm'?196:1600"},"fill":{"signal":"datum.value=='sm'?'#5F9EA0':'transparent'"},"stroke":{"signal":"datum.value=='sm'?'transparent':datum.value=='dm'?'#E04848':datum.value=='sf'?'#2F4F4F':'#8B0000'"},"strokeWidth":{"signal":"datum.value=='dm'?1.6:datum.value=='sm'?0:3"},"opacity":{"value":1}}}}}}}},
{"transform":[{"filter":"datum.s=='dm'"}],"mark":{"type":"point","shape":"M-1,0H1M0,-1V1","filled":false,"size":144,"strokeWidth":2,"opacity":0.8,"clip":true},"encoding":{"color":{"field":"s","type":"nominal","title":null,"scale":{"domain":["sm","sf","dm","df"],"range":["#5F9EA0","#2F4F4F","#E04848","#8B0000"]},"legend":{"orient":"none","legendX":129,"legendY":798,"title":null,"labelExpr":"datum.value=='sm'?'Single-EAR-measured':datum.value=='dm'?'Dual-EAR+BLR-measured':datum.value=='sf'?'Single-EAR-fitting':'Dual-EAR+BLR-fitting'","encode":{"symbols":{"update":{"shape":{"signal":"datum.value=='sm'?'circle':datum.value=='dm'?'M-1,0H1M0,-1V1':'M-1.3,0H1.3'"},"size":{"signal":"datum.value=='sm'?45:datum.value=='dm'?196:1600"},"fill":{"signal":"datum.value=='sm'?'#5F9EA0':'transparent'"},"stroke":{"signal":"datum.value=='sm'?'transparent':datum.value=='dm'?'#E04848':datum.value=='sf'?'#2F4F4F':'#8B0000'"},"strokeWidth":{"signal":"datum.value=='dm'?1.6:datum.value=='sm'?0:3"},"opacity":{"value":1}}}}}}}},
{"transform":[{"filter":"datum.s=='sf'"}],"mark":{"type":"line","strokeWidth":3,"interpolate":"monotone","clip":true},"encoding":{"color":{"field":"s","type":"nominal","title":null,"scale":{"domain":["sm","sf","dm","df"],"range":["#5F9EA0","#2F4F4F","#E04848","#8B0000"]},"legend":{"orient":"none","legendX":129,"legendY":798,"title":null,"labelExpr":"datum.value=='sm'?'Single-EAR-measured':datum.value=='dm'?'Dual-EAR+BLR-measured':datum.value=='sf'?'Single-EAR-fitting':'Dual-EAR+BLR-fitting'","encode":{"symbols":{"update":{"shape":{"signal":"datum.value=='sm'?'circle':datum.value=='dm'?'M-1,0H1M0,-1V1':'M-1.3,0H1.3'"},"size":{"signal":"datum.value=='sm'?45:datum.value=='dm'?196:1600"},"fill":{"signal":"datum.value=='sm'?'#5F9EA0':'transparent'"},"stroke":{"signal":"datum.value=='sm'?'transparent':datum.value=='dm'?'#E04848':datum.value=='sf'?'#2F4F4F':'#8B0000'"},"strokeWidth":{"signal":"datum.value=='dm'?1.6:datum.value=='sm'?0:3"},"opacity":{"value":1}}}}}}}},
{"transform":[{"filter":"datum.s=='df'"}],"mark":{"type":"line","strokeWidth":3,"interpolate":"monotone","clip":true},"encoding":{"color":{"field":"s","type":"nominal","title":null,"scale":{"domain":["sm","sf","dm","df"],"range":["#5F9EA0","#2F4F4F","#E04848","#8B0000"]},"legend":{"orient":"none","legendX":129,"legendY":798,"title":null,"labelExpr":"datum.value=='sm'?'Single-EAR-measured':datum.value=='dm'?'Dual-EAR+BLR-measured':datum.value=='sf'?'Single-EAR-fitting':'Dual-EAR+BLR-fitting'","encode":{"symbols":{"update":{"shape":{"signal":"datum.value=='sm'?'circle':datum.value=='dm'?'M-1,0H1M0,-1V1':'M-1.3,0H1.3'"},"size":{"signal":"datum.value=='sm'?45:datum.value=='dm'?196:1600"},"fill":{"signal":"datum.value=='sm'?'#5F9EA0':'transparent'"},"stroke":{"signal":"datum.value=='sm'?'transparent':datum.value=='dm'?'#E04848':datum.value=='sf'?'#2F4F4F':'#8B0000'"},"strokeWidth":{"signal":"datum.value=='dm'?1.6:datum.value=='sm'?0:3"},"opacity":{"value":1}}}}}}}}
]},
{"data":{"name":"s3"},"layer":[
{"mark":{"type":"text","align":"left","baseline":"alphabetic","fontSize":18,"fontStyle":"italic","lineHeight":21,"color":"black"},"encoding":{"x":{"datum":-17.78,"type":"quantitative"},"y":{"datum":41,"type":"quantitative"},"text":{"value":["r","r"]}}},
{"mark":{"type":"text","align":"left","baseline":"alphabetic","fontSize":18,"lineHeight":21,"dx":7.8,"color":"black"},"encoding":{"x":{"datum":-17.78,"type":"quantitative"},"y":{"datum":41,"type":"quantitative"},"text":{"value":["-Single","-Dual"]}}},
{"mark":{"type":"text","align":"left","baseline":"alphabetic","fontSize":18,"lineHeight":21,"dx":97,"color":"black"},"encoding":{"x":{"datum":-17.78,"type":"quantitative"},"y":{"datum":41,"type":"quantitative"},"text":{"value":["=","="]}}},
{"mark":{"type":"text","align":"left","baseline":"alphabetic","fontSize":18,"dx":128,"color":"black"},"encoding":{"x":{"datum":-17.78,"type":"quantitative"},"y":{"datum":41,"type":"quantitative"},"text":{"field":"a","type":"nominal"}}},
{"mark":{"type":"text","align":"left","baseline":"alphabetic","fontSize":18,"dx":128,"color":"black"},"encoding":{"x":{"datum":-17.78,"type":"quantitative"},"y":{"datum":37.94,"type":"quantitative"},"text":{"field":"b","type":"nominal"}}}
]}
]},
{"width":301,"height":307,"title":{"text":"Height 2590 m","offset":-8},"data":{"name":"d4"},
"layer":[
{"encoding":{"x":{"field":"v","type":"quantitative","scale":{"domain":[-20,20],"nice":false,"zero":false},"axis":{"values":[-20,0,20],"title":"Doppler Velocity (m/s)"}},"y":{"field":"p","type":"quantitative","scale":{"domain":[0,44.75],"nice":false,"zero":false},"axis":{"values":[0,10,20,30,40],"title":"Echo Power Spectrum (dB)"}}},
"layer":[
{"transform":[{"filter":"datum.s=='sm'"}],"mark":{"type":"point","shape":"circle","filled":true,"size":80,"opacity":0.9,"clip":true},"encoding":{"color":{"field":"s","type":"nominal","title":null,"scale":{"domain":["sm","sf","dm","df"],"range":["#5F9EA0","#2F4F4F","#E04848","#8B0000"]},"legend":{"orient":"none","legendX":129,"legendY":798,"title":null,"labelExpr":"datum.value=='sm'?'Single-EAR-measured':datum.value=='dm'?'Dual-EAR+BLR-measured':datum.value=='sf'?'Single-EAR-fitting':'Dual-EAR+BLR-fitting'","encode":{"symbols":{"update":{"shape":{"signal":"datum.value=='sm'?'circle':datum.value=='dm'?'M-1,0H1M0,-1V1':'M-1.3,0H1.3'"},"size":{"signal":"datum.value=='sm'?45:datum.value=='dm'?196:1600"},"fill":{"signal":"datum.value=='sm'?'#5F9EA0':'transparent'"},"stroke":{"signal":"datum.value=='sm'?'transparent':datum.value=='dm'?'#E04848':datum.value=='sf'?'#2F4F4F':'#8B0000'"},"strokeWidth":{"signal":"datum.value=='dm'?1.6:datum.value=='sm'?0:3"},"opacity":{"value":1}}}}}}}},
{"transform":[{"filter":"datum.s=='dm'"}],"mark":{"type":"point","shape":"M-1,0H1M0,-1V1","filled":false,"size":144,"strokeWidth":2,"opacity":0.8,"clip":true},"encoding":{"color":{"field":"s","type":"nominal","title":null,"scale":{"domain":["sm","sf","dm","df"],"range":["#5F9EA0","#2F4F4F","#E04848","#8B0000"]},"legend":{"orient":"none","legendX":129,"legendY":798,"title":null,"labelExpr":"datum.value=='sm'?'Single-EAR-measured':datum.value=='dm'?'Dual-EAR+BLR-measured':datum.value=='sf'?'Single-EAR-fitting':'Dual-EAR+BLR-fitting'","encode":{"symbols":{"update":{"shape":{"signal":"datum.value=='sm'?'circle':datum.value=='dm'?'M-1,0H1M0,-1V1':'M-1.3,0H1.3'"},"size":{"signal":"datum.value=='sm'?45:datum.value=='dm'?196:1600"},"fill":{"signal":"datum.value=='sm'?'#5F9EA0':'transparent'"},"stroke":{"signal":"datum.value=='sm'?'transparent':datum.value=='dm'?'#E04848':datum.value=='sf'?'#2F4F4F':'#8B0000'"},"strokeWidth":{"signal":"datum.value=='dm'?1.6:datum.value=='sm'?0:3"},"opacity":{"value":1}}}}}}}},
{"transform":[{"filter":"datum.s=='sf'"}],"mark":{"type":"line","strokeWidth":3,"interpolate":"monotone","clip":true},"encoding":{"color":{"field":"s","type":"nominal","title":null,"scale":{"domain":["sm","sf","dm","df"],"range":["#5F9EA0","#2F4F4F","#E04848","#8B0000"]},"legend":{"orient":"none","legendX":129,"legendY":798,"title":null,"labelExpr":"datum.value=='sm'?'Single-EAR-measured':datum.value=='dm'?'Dual-EAR+BLR-measured':datum.value=='sf'?'Single-EAR-fitting':'Dual-EAR+BLR-fitting'","encode":{"symbols":{"update":{"shape":{"signal":"datum.value=='sm'?'circle':datum.value=='dm'?'M-1,0H1M0,-1V1':'M-1.3,0H1.3'"},"size":{"signal":"datum.value=='sm'?45:datum.value=='dm'?196:1600"},"fill":{"signal":"datum.value=='sm'?'#5F9EA0':'transparent'"},"stroke":{"signal":"datum.value=='sm'?'transparent':datum.value=='dm'?'#E04848':datum.value=='sf'?'#2F4F4F':'#8B0000'"},"strokeWidth":{"signal":"datum.value=='dm'?1.6:datum.value=='sm'?0:3"},"opacity":{"value":1}}}}}}}},
{"transform":[{"filter":"datum.s=='df'"}],"mark":{"type":"line","strokeWidth":3,"interpolate":"monotone","clip":true},"encoding":{"color":{"field":"s","type":"nominal","title":null,"scale":{"domain":["sm","sf","dm","df"],"range":["#5F9EA0","#2F4F4F","#E04848","#8B0000"]},"legend":{"orient":"none","legendX":129,"legendY":798,"title":null,"labelExpr":"datum.value=='sm'?'Single-EAR-measured':datum.value=='dm'?'Dual-EAR+BLR-measured':datum.value=='sf'?'Single-EAR-fitting':'Dual-EAR+BLR-fitting'","encode":{"symbols":{"update":{"shape":{"signal":"datum.value=='sm'?'circle':datum.value=='dm'?'M-1,0H1M0,-1V1':'M-1.3,0H1.3'"},"size":{"signal":"datum.value=='sm'?45:datum.value=='dm'?196:1600"},"fill":{"signal":"datum.value=='sm'?'#5F9EA0':'transparent'"},"stroke":{"signal":"datum.value=='sm'?'transparent':datum.value=='dm'?'#E04848':datum.value=='sf'?'#2F4F4F':'#8B0000'"},"strokeWidth":{"signal":"datum.value=='dm'?1.6:datum.value=='sm'?0:3"},"opacity":{"value":1}}}}}}}}
]},
{"data":{"name":"s4"},"layer":[
{"mark":{"type":"text","align":"left","baseline":"alphabetic","fontSize":18,"fontStyle":"italic","lineHeight":21,"color":"black"},"encoding":{"x":{"datum":-17.78,"type":"quantitative"},"y":{"datum":41,"type":"quantitative"},"text":{"value":["r","r"]}}},
{"mark":{"type":"text","align":"left","baseline":"alphabetic","fontSize":18,"lineHeight":21,"dx":7.8,"color":"black"},"encoding":{"x":{"datum":-17.78,"type":"quantitative"},"y":{"datum":41,"type":"quantitative"},"text":{"value":["-Single","-Dual"]}}},
{"mark":{"type":"text","align":"left","baseline":"alphabetic","fontSize":18,"lineHeight":21,"dx":97,"color":"black"},"encoding":{"x":{"datum":-17.78,"type":"quantitative"},"y":{"datum":41,"type":"quantitative"},"text":{"value":["=","="]}}},
{"mark":{"type":"text","align":"left","baseline":"alphabetic","fontSize":18,"dx":128,"color":"black"},"encoding":{"x":{"datum":-17.78,"type":"quantitative"},"y":{"datum":41,"type":"quantitative"},"text":{"field":"a","type":"nominal"}}},
{"mark":{"type":"text","align":"left","baseline":"alphabetic","fontSize":18,"dx":128,"color":"black"},"encoding":{"x":{"datum":-17.78,"type":"quantitative"},"y":{"datum":37.94,"type":"quantitative"},"text":{"field":"b","type":"nominal"}}}
]}
]},
{"width":301,"height":307,"title":{"text":"Height 2740 m"},"data":{"name":"d5"},
"layer":[
{"encoding":{"x":{"field":"v","type":"quantitative","scale":{"domain":[-20,20],"nice":false,"zero":false},"axis":{"values":[-20,0,20],"title":"Doppler Velocity (m/s)"}},"y":{"field":"p","type":"quantitative","scale":{"domain":[0,44.75],"nice":false,"zero":false},"axis":{"values":[0,10,20,30,40],"title":null}}},
"layer":[
{"transform":[{"filter":"datum.s=='sm'"}],"mark":{"type":"point","shape":"circle","filled":true,"size":80,"opacity":0.9,"clip":true},"encoding":{"color":{"field":"s","type":"nominal","title":null,"scale":{"domain":["sm","sf","dm","df"],"range":["#5F9EA0","#2F4F4F","#E04848","#8B0000"]},"legend":{"orient":"none","legendX":129,"legendY":798,"title":null,"labelExpr":"datum.value=='sm'?'Single-EAR-measured':datum.value=='dm'?'Dual-EAR+BLR-measured':datum.value=='sf'?'Single-EAR-fitting':'Dual-EAR+BLR-fitting'","encode":{"symbols":{"update":{"shape":{"signal":"datum.value=='sm'?'circle':datum.value=='dm'?'M-1,0H1M0,-1V1':'M-1.3,0H1.3'"},"size":{"signal":"datum.value=='sm'?45:datum.value=='dm'?196:1600"},"fill":{"signal":"datum.value=='sm'?'#5F9EA0':'transparent'"},"stroke":{"signal":"datum.value=='sm'?'transparent':datum.value=='dm'?'#E04848':datum.value=='sf'?'#2F4F4F':'#8B0000'"},"strokeWidth":{"signal":"datum.value=='dm'?1.6:datum.value=='sm'?0:3"},"opacity":{"value":1}}}}}}}},
{"transform":[{"filter":"datum.s=='dm'"}],"mark":{"type":"point","shape":"M-1,0H1M0,-1V1","filled":false,"size":144,"strokeWidth":2,"opacity":0.8,"clip":true},"encoding":{"color":{"field":"s","type":"nominal","title":null,"scale":{"domain":["sm","sf","dm","df"],"range":["#5F9EA0","#2F4F4F","#E04848","#8B0000"]},"legend":{"orient":"none","legendX":129,"legendY":798,"title":null,"labelExpr":"datum.value=='sm'?'Single-EAR-measured':datum.value=='dm'?'Dual-EAR+BLR-measured':datum.value=='sf'?'Single-EAR-fitting':'Dual-EAR+BLR-fitting'","encode":{"symbols":{"update":{"shape":{"signal":"datum.value=='sm'?'circle':datum.value=='dm'?'M-1,0H1M0,-1V1':'M-1.3,0H1.3'"},"size":{"signal":"datum.value=='sm'?45:datum.value=='dm'?196:1600"},"fill":{"signal":"datum.value=='sm'?'#5F9EA0':'transparent'"},"stroke":{"signal":"datum.value=='sm'?'transparent':datum.value=='dm'?'#E04848':datum.value=='sf'?'#2F4F4F':'#8B0000'"},"strokeWidth":{"signal":"datum.value=='dm'?1.6:datum.value=='sm'?0:3"},"opacity":{"value":1}}}}}}}},
{"transform":[{"filter":"datum.s=='sf'"}],"mark":{"type":"line","strokeWidth":3,"interpolate":"monotone","clip":true},"encoding":{"color":{"field":"s","type":"nominal","title":null,"scale":{"domain":["sm","sf","dm","df"],"range":["#5F9EA0","#2F4F4F","#E04848","#8B0000"]},"legend":{"orient":"none","legendX":129,"legendY":798,"title":null,"labelExpr":"datum.value=='sm'?'Single-EAR-measured':datum.value=='dm'?'Dual-EAR+BLR-measured':datum.value=='sf'?'Single-EAR-fitting':'Dual-EAR+BLR-fitting'","encode":{"symbols":{"update":{"shape":{"signal":"datum.value=='sm'?'circle':datum.value=='dm'?'M-1,0H1M0,-1V1':'M-1.3,0H1.3'"},"size":{"signal":"datum.value=='sm'?45:datum.value=='dm'?196:1600"},"fill":{"signal":"datum.value=='sm'?'#5F9EA0':'transparent'"},"stroke":{"signal":"datum.value=='sm'?'transparent':datum.value=='dm'?'#E04848':datum.value=='sf'?'#2F4F4F':'#8B0000'"},"strokeWidth":{"signal":"datum.value=='dm'?1.6:datum.value=='sm'?0:3"},"opacity":{"value":1}}}}}}}},
{"transform":[{"filter":"datum.s=='df'"}],"mark":{"type":"line","strokeWidth":3,"interpolate":"monotone","clip":true},"encoding":{"color":{"field":"s","type":"nominal","title":null,"scale":{"domain":["sm","sf","dm","df"],"range":["#5F9EA0","#2F4F4F","#E04848","#8B0000"]},"legend":{"orient":"none","legendX":129,"legendY":798,"title":null,"labelExpr":"datum.value=='sm'?'Single-EAR-measured':datum.value=='dm'?'Dual-EAR+BLR-measured':datum.value=='sf'?'Single-EAR-fitting':'Dual-EAR+BLR-fitting'","encode":{"symbols":{"update":{"shape":{"signal":"datum.value=='sm'?'circle':datum.value=='dm'?'M-1,0H1M0,-1V1':'M-1.3,0H1.3'"},"size":{"signal":"datum.value=='sm'?45:datum.value=='dm'?196:1600"},"fill":{"signal":"datum.value=='sm'?'#5F9EA0':'transparent'"},"stroke":{"signal":"datum.value=='sm'?'transparent':datum.value=='dm'?'#E04848':datum.value=='sf'?'#2F4F4F':'#8B0000'"},"strokeWidth":{"signal":"datum.value=='dm'?1.6:datum.value=='sm'?0:3"},"opacity":{"value":1}}}}}}}}
]},
{"data":{"name":"s5"},"layer":[
{"mark":{"type":"text","align":"left","baseline":"alphabetic","fontSize":18,"fontStyle":"italic","lineHeight":21,"color":"black"},"encoding":{"x":{"datum":-17.78,"type":"quantitative"},"y":{"datum":41,"type":"quantitative"},"text":{"value":["r","r"]}}},
{"mark":{"type":"text","align":"left","baseline":"alphabetic","fontSize":18,"lineHeight":21,"dx":7.8,"color":"black"},"encoding":{"x":{"datum":-17.78,"type":"quantitative"},"y":{"datum":41,"type":"quantitative"},"text":{"value":["-Single","-Dual"]}}},
{"mark":{"type":"text","align":"left","baseline":"alphabetic","fontSize":18,"lineHeight":21,"dx":97,"color":"black"},"encoding":{"x":{"datum":-17.78,"type":"quantitative"},"y":{"datum":41,"type":"quantitative"},"text":{"value":["=","="]}}},
{"mark":{"type":"text","align":"left","baseline":"alphabetic","fontSize":18,"dx":128,"color":"black"},"encoding":{"x":{"datum":-17.78,"type":"quantitative"},"y":{"datum":41,"type":"quantitative"},"text":{"field":"a","type":"nominal"}}},
{"mark":{"type":"text","align":"left","baseline":"alphabetic","fontSize":18,"dx":128,"color":"black"},"encoding":{"x":{"datum":-17.78,"type":"quantitative"},"y":{"datum":37.94,"type":"quantitative"},"text":{"field":"b","type":"nominal"}}}
]}
]},
{"width":301,"height":307,"title":{"text":"Height 2890 m"},"data":{"name":"d6"},
"layer":[
{"encoding":{"x":{"field":"v","type":"quantitative","scale":{"domain":[-20,20],"nice":false,"zero":false},"axis":{"values":[-20,0,20],"title":"Doppler Velocity (m/s)"}},"y":{"field":"p","type":"quantitative","scale":{"domain":[0,44.75],"nice":false,"zero":false},"axis":{"values":[0,10,20,30,40],"title":null}}},
"layer":[
{"transform":[{"filter":"datum.s=='sm'"}],"mark":{"type":"point","shape":"circle","filled":true,"size":80,"opacity":0.9,"clip":true},"encoding":{"color":{"field":"s","type":"nominal","title":null,"scale":{"domain":["sm","sf","dm","df"],"range":["#5F9EA0","#2F4F4F","#E04848","#8B0000"]},"legend":{"orient":"none","legendX":129,"legendY":798,"title":null,"labelExpr":"datum.value=='sm'?'Single-EAR-measured':datum.value=='dm'?'Dual-EAR+BLR-measured':datum.value=='sf'?'Single-EAR-fitting':'Dual-EAR+BLR-fitting'","encode":{"symbols":{"update":{"shape":{"signal":"datum.value=='sm'?'circle':datum.value=='dm'?'M-1,0H1M0,-1V1':'M-1.3,0H1.3'"},"size":{"signal":"datum.value=='sm'?45:datum.value=='dm'?196:1600"},"fill":{"signal":"datum.value=='sm'?'#5F9EA0':'transparent'"},"stroke":{"signal":"datum.value=='sm'?'transparent':datum.value=='dm'?'#E04848':datum.value=='sf'?'#2F4F4F':'#8B0000'"},"strokeWidth":{"signal":"datum.value=='dm'?1.6:datum.value=='sm'?0:3"},"opacity":{"value":1}}}}}}}},
{"transform":[{"filter":"datum.s=='dm'"}],"mark":{"type":"point","shape":"M-1,0H1M0,-1V1","filled":false,"size":144,"strokeWidth":2,"opacity":0.8,"clip":true},"encoding":{"color":{"field":"s","type":"nominal","title":null,"scale":{"domain":["sm","sf","dm","df"],"range":["#5F9EA0","#2F4F4F","#E04848","#8B0000"]},"legend":{"orient":"none","legendX":129,"legendY":798,"title":null,"labelExpr":"datum.value=='sm'?'Single-EAR-measured':datum.value=='dm'?'Dual-EAR+BLR-measured':datum.value=='sf'?'Single-EAR-fitting':'Dual-EAR+BLR-fitting'","encode":{"symbols":{"update":{"shape":{"signal":"datum.value=='sm'?'circle':datum.value=='dm'?'M-1,0H1M0,-1V1':'M-1.3,0H1.3'"},"size":{"signal":"datum.value=='sm'?45:datum.value=='dm'?196:1600"},"fill":{"signal":"datum.value=='sm'?'#5F9EA0':'transparent'"},"stroke":{"signal":"datum.value=='sm'?'transparent':datum.value=='dm'?'#E04848':datum.value=='sf'?'#2F4F4F':'#8B0000'"},"strokeWidth":{"signal":"datum.value=='dm'?1.6:datum.value=='sm'?0:3"},"opacity":{"value":1}}}}}}}},
{"transform":[{"filter":"datum.s=='sf'"}],"mark":{"type":"line","strokeWidth":3,"interpolate":"monotone","clip":true},"encoding":{"color":{"field":"s","type":"nominal","title":null,"scale":{"domain":["sm","sf","dm","df"],"range":["#5F9EA0","#2F4F4F","#E04848","#8B0000"]},"legend":{"orient":"none","legendX":129,"legendY":798,"title":null,"labelExpr":"datum.value=='sm'?'Single-EAR-measured':datum.value=='dm'?'Dual-EAR+BLR-measured':datum.value=='sf'?'Single-EAR-fitting':'Dual-EAR+BLR-fitting'","encode":{"symbols":{"update":{"shape":{"signal":"datum.value=='sm'?'circle':datum.value=='dm'?'M-1,0H1M0,-1V1':'M-1.3,0H1.3'"},"size":{"signal":"datum.value=='sm'?45:datum.value=='dm'?196:1600"},"fill":{"signal":"datum.value=='sm'?'#5F9EA0':'transparent'"},"stroke":{"signal":"datum.value=='sm'?'transparent':datum.value=='dm'?'#E04848':datum.value=='sf'?'#2F4F4F':'#8B0000'"},"strokeWidth":{"signal":"datum.value=='dm'?1.6:datum.value=='sm'?0:3"},"opacity":{"value":1}}}}}}}},
{"transform":[{"filter":"datum.s=='df'"}],"mark":{"type":"line","strokeWidth":3,"interpolate":"monotone","clip":true},"encoding":{"color":{"field":"s","type":"nominal","title":null,"scale":{"domain":["sm","sf","dm","df"],"range":["#5F9EA0","#2F4F4F","#E04848","#8B0000"]},"legend":{"orient":"none","legendX":129,"legendY":798,"title":null,"labelExpr":"datum.value=='sm'?'Single-EAR-measured':datum.value=='dm'?'Dual-EAR+BLR-measured':datum.value=='sf'?'Single-EAR-fitting':'Dual-EAR+BLR-fitting'","encode":{"symbols":{"update":{"shape":{"signal":"datum.value=='sm'?'circle':datum.value=='dm'?'M-1,0H1M0,-1V1':'M-1.3,0H1.3'"},"size":{"signal":"datum.value=='sm'?45:datum.value=='dm'?196:1600"},"fill":{"signal":"datum.value=='sm'?'#5F9EA0':'transparent'"},"stroke":{"signal":"datum.value=='sm'?'transparent':datum.value=='dm'?'#E04848':datum.value=='sf'?'#2F4F4F':'#8B0000'"},"strokeWidth":{"signal":"datum.value=='dm'?1.6:datum.value=='sm'?0:3"},"opacity":{"value":1}}}}}}}}
]},
{"data":{"name":"s6"},"layer":[
{"mark":{"type":"text","align":"left","baseline":"alphabetic","fontSize":18,"fontStyle":"italic","lineHeight":21,"color":"black"},"encoding":{"x":{"datum":-17.78,"type":"quantitative"},"y":{"datum":41,"type":"quantitative"},"text":{"value":["r","r"]}}},
{"mark":{"type":"text","align":"left","baseline":"alphabetic","fontSize":18,"lineHeight":21,"dx":7.8,"color":"black"},"encoding":{"x":{"datum":-17.78,"type":"quantitative"},"y":{"datum":41,"type":"quantitative"},"text":{"value":["-Single","-Dual"]}}},
{"mark":{"type":"text","align":"left","baseline":"alphabetic","fontSize":18,"lineHeight":21,"dx":97,"color":"black"},"encoding":{"x":{"datum":-17.78,"type":"quantitative"},"y":{"datum":41,"type":"quantitative"},"text":{"value":["=","="]}}},
{"mark":{"type":"text","align":"left","baseline":"alphabetic","fontSize":18,"dx":128,"color":"black"},"encoding":{"x":{"datum":-17.78,"type":"quantitative"},"y":{"datum":41,"type":"quantitative"},"text":{"field":"a","type":"nominal"}}},
{"mark":{"type":"text","align":"left","baseline":"alphabetic","fontSize":18,"dx":128,"color":"black"},"encoding":{"x":{"datum":-17.78,"type":"quantitative"},"y":{"datum":37.94,"type":"quantitative"},"text":{"field":"b","type":"nominal"}}}
]}
]}
],
"config":{
"font":"DejaVu Sans",
"view":{"stroke":"black","strokeWidth":1.6},
"axis":{"grid":false,"domain":false,"tickColor":"black","tickWidth":1.6,"tickSize":9,"labelFontSize":23,"labelColor":"black","labelPadding":10,"labelFlush":false,"labelOverlap":false,"titleFontSize":26.5,"titleFontWeight":"normal","titleColor":"black"},
"axisX":{"titlePadding":13},
"axisY":{"titlePadding":17},
"title":{"fontSize":23.5,"fontWeight":"normal","color":"black","offset":16,"baseline":"alphabetic"},
"legend":{"columns":2,"labelFontSize":24,"labelColor":"black","labelLimit":500,"symbolSize":1600,"symbolType":"stroke","symbolOffset":6,"labelOffset":38,"columnPadding":41,"rowPadding":14,"strokeColor":"#cccccc","padding":10,"cornerRadius":4,"fillColor":"white"}
}
}
